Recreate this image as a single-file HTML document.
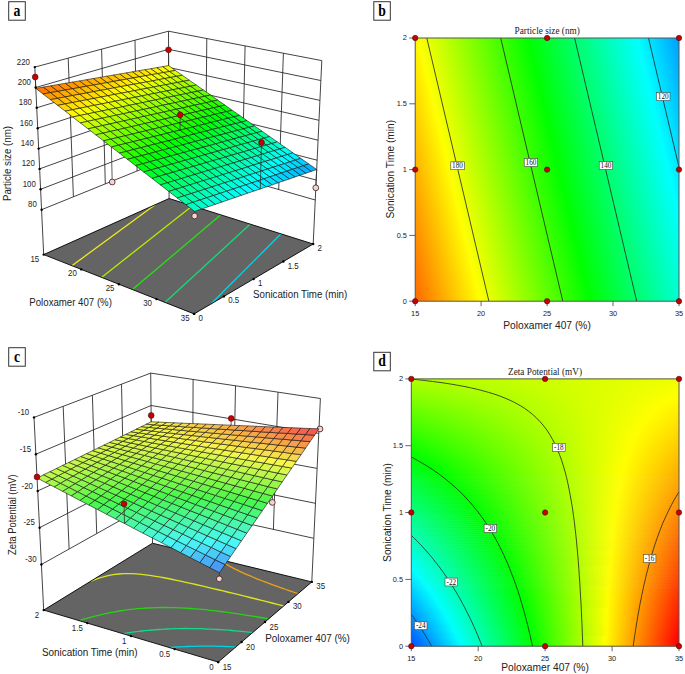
<!DOCTYPE html>
<html><head><meta charset="utf-8"><style>
html,body{margin:0;padding:0;background:#fff;}
svg{display:block;}
.g{stroke:#222;stroke-width:0.85;}
.dl{stroke:#333;stroke-width:0.8;}
.fl{fill:#646464;}
.sf polygon{stroke:#111;stroke-width:0.6;stroke-linejoin:round;}
.rd{fill:#c80000;stroke:#401010;stroke-width:0.6;}
.pk{fill:#fcd0d0;stroke:#2a2020;stroke-width:0.8;}
.tk{fill:#000;}
.ct{stroke:#222;stroke-width:0.8;fill:none;}
.bd{fill:none;stroke:#555;stroke-width:1;}
.tkl{stroke:#555;stroke-width:0.9;}
.lb{fill:#fff;stroke:#444;stroke-width:0.6;}
</style></head><body>
<svg width="685" height="674" viewBox="0 0 685 674">
<rect width="685" height="674" fill="#fff"/>
<line class="g" x1="41.6" y1="209.7" x2="168.9" y2="158.1"/>
<line class="g" x1="168.9" y1="158.1" x2="315.3" y2="200"/>
<line class="g" x1="40.6" y1="189.3" x2="168.9" y2="140"/>
<line class="g" x1="168.9" y1="140" x2="316.2" y2="180.1"/>
<line class="g" x1="39.6" y1="168.9" x2="168.8" y2="121.9"/>
<line class="g" x1="168.8" y1="121.9" x2="317.1" y2="160.2"/>
<line class="g" x1="38.6" y1="148.6" x2="168.7" y2="103.7"/>
<line class="g" x1="168.7" y1="103.7" x2="318.1" y2="140.2"/>
<line class="g" x1="37.7" y1="128.2" x2="168.7" y2="85.6"/>
<line class="g" x1="168.7" y1="85.6" x2="319" y2="120.3"/>
<line class="g" x1="36.7" y1="107.8" x2="168.6" y2="67.4"/>
<line class="g" x1="168.6" y1="67.4" x2="319.9" y2="100.4"/>
<line class="g" x1="35.7" y1="87.5" x2="168.5" y2="49.3"/>
<line class="g" x1="168.5" y1="49.3" x2="320.8" y2="80.5"/>
<line class="g" x1="34.8" y1="67.1" x2="168.5" y2="31.2"/>
<line class="g" x1="168.5" y1="31.2" x2="321.8" y2="60.6"/>
<line class="g" x1="73.4" y1="196.8" x2="68.2" y2="58.1"/>
<line class="g" x1="205.5" y1="168.6" x2="206.8" y2="38.5"/>
<line class="g" x1="105.3" y1="183.9" x2="101.6" y2="49.1"/>
<line class="g" x1="242.1" y1="179.1" x2="245.1" y2="45.9"/>
<line class="g" x1="137.1" y1="171" x2="135" y2="40.1"/>
<line class="g" x1="278.7" y1="189.5" x2="283.4" y2="53.2"/>
<line class="g" x1="43.7" y1="254.6" x2="34.8" y2="67.1"/>
<line class="g" x1="169.1" y1="198.5" x2="168.5" y2="31.2"/>
<line class="g" x1="313.2" y1="244" x2="321.8" y2="60.6"/>
<polygon class="fl" points="43.7,254.6 194.1,313.9 313.2,244 169.1,198.5"/>
<line x1="71.9" y1="265.7" x2="155.1" y2="204.7" stroke="#f0ea1e" stroke-width="1.3"/>
<line x1="101.5" y1="277.4" x2="192.5" y2="205.8" stroke="#b4ec00" stroke-width="1.3"/>
<line x1="132.4" y1="289.6" x2="220.8" y2="214.8" stroke="#28e014" stroke-width="1.3"/>
<line x1="164.9" y1="302.4" x2="250.3" y2="224.1" stroke="#14dc78" stroke-width="1.3"/>
<line x1="210.9" y1="304" x2="281.1" y2="233.8" stroke="#00d8e4" stroke-width="1.3"/>
<polygon points="43.7,254.6 194.1,313.9 313.2,244 169.1,198.5" fill="none" stroke="#000" stroke-width="0.9"/>
<line class="dl" x1="112.2" y1="182" x2="111.4" y2="147"/>
<circle class="pk" cx="112.2" cy="182" r="2.9"/>
<line class="dl" x1="194.6" y1="216" x2="194.6" y2="211.4"/>
<circle class="pk" cx="194.6" cy="216" r="2.9"/>
<line class="dl" x1="315.8" y1="187.8" x2="316.7" y2="169.5"/>
<circle class="pk" cx="315.8" cy="187.8" r="2.9"/>
<g class="sf"><polygon fill="#ff7b00" points="35.8,88.4 43,94 50.6,92.6 43.3,87.1"/><polygon fill="#ff8200" points="43.3,87.1 50.6,92.6 58,91.3 50.8,85.8"/><polygon fill="#ff8900" points="50.8,85.8 58,91.3 65.3,90 58.2,84.5"/><polygon fill="#ff9000" points="58.2,84.5 65.3,90 72.6,88.7 65.4,83.3"/><polygon fill="#ff9700" points="65.4,83.3 72.6,88.7 79.7,87.5 72.5,82.1"/><polygon fill="#ff9f00" points="72.5,82.1 79.7,87.5 86.7,86.2 79.6,80.9"/><polygon fill="#ffa600" points="79.6,80.9 86.7,86.2 93.6,85 86.5,79.7"/><polygon fill="#ffad00" points="86.5,79.7 93.6,85 100.5,83.8 93.4,78.5"/><polygon fill="#ffb400" points="93.4,78.5 100.5,83.8 107.2,82.6 100.1,77.4"/><polygon fill="#ffbc00" points="100.1,77.4 107.2,82.6 113.8,81.4 106.8,76.2"/><polygon fill="#ffc300" points="106.8,76.2 113.8,81.4 120.4,80.2 113.3,75.1"/><polygon fill="#ffca00" points="113.3,75.1 120.4,80.2 126.8,79.1 119.8,74"/><polygon fill="#ffd100" points="119.8,74 126.8,79.1 133.2,77.9 126.2,72.9"/><polygon fill="#ffd900" points="126.2,72.9 133.2,77.9 139.5,76.8 132.5,71.8"/><polygon fill="#ffe000" points="132.5,71.8 139.5,76.8 145.7,75.7 138.7,70.7"/><polygon fill="#ffe700" points="138.7,70.7 145.7,75.7 151.8,74.6 144.8,69.7"/><polygon fill="#ffee00" points="144.8,69.7 151.8,74.6 157.8,73.6 150.9,68.7"/><polygon fill="#fff500" points="150.9,68.7 157.8,73.6 163.8,72.5 156.9,67.6"/><polygon fill="#fffd00" points="156.9,67.6 163.8,72.5 169.6,71.5 162.8,66.6"/><polygon fill="#faff00" points="162.8,66.6 169.6,71.5 175.4,70.4 168.6,65.6"/><polygon fill="#ff9900" points="43,94 50.3,99.6 57.9,98.3 50.6,92.6"/><polygon fill="#ffa100" points="50.6,92.6 57.9,98.3 65.3,96.9 58,91.3"/><polygon fill="#ffa800" points="58,91.3 65.3,96.9 72.6,95.5 65.3,90"/><polygon fill="#ffaf00" points="65.3,90 72.6,95.5 79.8,94.2 72.6,88.7"/><polygon fill="#ffb600" points="72.6,88.7 79.8,94.2 86.9,92.9 79.7,87.5"/><polygon fill="#ffbd00" points="79.7,87.5 86.9,92.9 93.9,91.6 86.7,86.2"/><polygon fill="#ffc500" points="86.7,86.2 93.9,91.6 100.8,90.3 93.6,85"/><polygon fill="#ffcc00" points="93.6,85 100.8,90.3 107.6,89.1 100.5,83.8"/><polygon fill="#ffd300" points="100.5,83.8 107.6,89.1 114.3,87.8 107.2,82.6"/><polygon fill="#ffda00" points="107.2,82.6 114.3,87.8 120.9,86.6 113.8,81.4"/><polygon fill="#ffe200" points="113.8,81.4 120.9,86.6 127.4,85.4 120.4,80.2"/><polygon fill="#ffe900" points="120.4,80.2 127.4,85.4 133.9,84.2 126.8,79.1"/><polygon fill="#fff000" points="126.8,79.1 133.9,84.2 140.2,83.1 133.2,77.9"/><polygon fill="#fff700" points="133.2,77.9 140.2,83.1 146.5,81.9 139.5,76.8"/><polygon fill="#fffe00" points="139.5,76.8 146.5,81.9 152.7,80.8 145.7,75.7"/><polygon fill="#f8ff00" points="145.7,75.7 152.7,80.8 158.8,79.6 151.8,74.6"/><polygon fill="#f1ff00" points="151.8,74.6 158.8,79.6 164.8,78.5 157.8,73.6"/><polygon fill="#eaff00" points="157.8,73.6 164.8,78.5 170.7,77.4 163.8,72.5"/><polygon fill="#e3ff00" points="163.8,72.5 170.7,77.4 176.6,76.3 169.6,71.5"/><polygon fill="#dbff00" points="169.6,71.5 176.6,76.3 182.3,75.3 175.4,70.4"/><polygon fill="#ffb800" points="50.3,99.6 57.7,105.4 65.2,103.9 57.9,98.3"/><polygon fill="#ffbf00" points="57.9,98.3 65.2,103.9 72.6,102.5 65.3,96.9"/><polygon fill="#ffc600" points="65.3,96.9 72.6,102.5 79.9,101.1 72.6,95.5"/><polygon fill="#ffce00" points="72.6,95.5 79.9,101.1 87.1,99.7 79.8,94.2"/><polygon fill="#ffd500" points="79.8,94.2 87.1,99.7 94.2,98.4 86.9,92.9"/><polygon fill="#ffdc00" points="86.9,92.9 94.2,98.4 101.2,97 93.9,91.6"/><polygon fill="#ffe300" points="93.9,91.6 101.2,97 108,95.7 100.8,90.3"/><polygon fill="#ffeb00" points="100.8,90.3 108,95.7 114.8,94.4 107.6,89.1"/><polygon fill="#fff200" points="107.6,89.1 114.8,94.4 121.5,93.1 114.3,87.8"/><polygon fill="#fff900" points="114.3,87.8 121.5,93.1 128.1,91.9 120.9,86.6"/><polygon fill="#feff00" points="120.9,86.6 128.1,91.9 134.6,90.6 127.4,85.4"/><polygon fill="#f7ff00" points="127.4,85.4 134.6,90.6 141,89.4 133.9,84.2"/><polygon fill="#efff00" points="133.9,84.2 141,89.4 147.3,88.2 140.2,83.1"/><polygon fill="#e8ff00" points="140.2,83.1 147.3,88.2 153.6,87 146.5,81.9"/><polygon fill="#e1ff00" points="146.5,81.9 153.6,87 159.7,85.8 152.7,80.8"/><polygon fill="#daff00" points="152.7,80.8 159.7,85.8 165.8,84.7 158.8,79.6"/><polygon fill="#d2ff00" points="158.8,79.6 165.8,84.7 171.8,83.5 164.8,78.5"/><polygon fill="#cbff00" points="164.8,78.5 171.8,83.5 177.7,82.4 170.7,77.4"/><polygon fill="#c4ff00" points="170.7,77.4 177.7,82.4 183.5,81.3 176.6,76.3"/><polygon fill="#bdff00" points="176.6,76.3 183.5,81.3 189.3,80.2 182.3,75.3"/><polygon fill="#ffd700" points="57.7,105.4 65.2,111.1 72.7,109.7 65.2,103.9"/><polygon fill="#ffde00" points="65.2,103.9 72.7,109.7 80.1,108.2 72.6,102.5"/><polygon fill="#ffe500" points="72.6,102.5 80.1,108.2 87.3,106.7 79.9,101.1"/><polygon fill="#ffec00" points="79.9,101.1 87.3,106.7 94.5,105.3 87.1,99.7"/><polygon fill="#fff400" points="87.1,99.7 94.5,105.3 101.5,103.9 94.2,98.4"/><polygon fill="#fffb00" points="94.2,98.4 101.5,103.9 108.5,102.5 101.2,97"/><polygon fill="#fcff00" points="101.2,97 108.5,102.5 115.3,101.2 108,95.7"/><polygon fill="#f5ff00" points="108,95.7 115.3,101.2 122.1,99.8 114.8,94.4"/><polygon fill="#edff00" points="114.8,94.4 122.1,99.8 128.8,98.5 121.5,93.1"/><polygon fill="#e6ff00" points="121.5,93.1 128.8,98.5 135.3,97.2 128.1,91.9"/><polygon fill="#dfff00" points="128.1,91.9 135.3,97.2 141.8,95.9 134.6,90.6"/><polygon fill="#d8ff00" points="134.6,90.6 141.8,95.9 148.2,94.6 141,89.4"/><polygon fill="#d1ff00" points="141,89.4 148.2,94.6 154.5,93.4 147.3,88.2"/><polygon fill="#c9ff00" points="147.3,88.2 154.5,93.4 160.7,92.1 153.6,87"/><polygon fill="#c2ff00" points="153.6,87 160.7,92.1 166.9,90.9 159.7,85.8"/><polygon fill="#bbff00" points="159.7,85.8 166.9,90.9 172.9,89.7 165.8,84.7"/><polygon fill="#b4ff00" points="165.8,84.7 172.9,89.7 178.9,88.5 171.8,83.5"/><polygon fill="#acff00" points="171.8,83.5 178.9,88.5 184.8,87.4 177.7,82.4"/><polygon fill="#a5ff00" points="177.7,82.4 184.8,87.4 190.6,86.2 183.5,81.3"/><polygon fill="#9eff00" points="183.5,81.3 190.6,86.2 196.3,85.1 189.3,80.2"/><polygon fill="#fff500" points="65.2,111.1 72.7,117 80.2,115.4 72.7,109.7"/><polygon fill="#fffd00" points="72.7,109.7 80.2,115.4 87.5,113.9 80.1,108.2"/><polygon fill="#faff00" points="80.1,108.2 87.5,113.9 94.8,112.4 87.3,106.7"/><polygon fill="#f3ff00" points="87.3,106.7 94.8,112.4 101.9,110.9 94.5,105.3"/><polygon fill="#ecff00" points="94.5,105.3 101.9,110.9 108.9,109.5 101.5,103.9"/><polygon fill="#e4ff00" points="101.5,103.9 108.9,109.5 115.9,108.1 108.5,102.5"/><polygon fill="#ddff00" points="108.5,102.5 115.9,108.1 122.7,106.7 115.3,101.2"/><polygon fill="#d6ff00" points="115.3,101.2 122.7,106.7 129.5,105.3 122.1,99.8"/><polygon fill="#cfff00" points="122.1,99.8 129.5,105.3 136.1,103.9 128.8,98.5"/><polygon fill="#c8ff00" points="128.8,98.5 136.1,103.9 142.6,102.6 135.3,97.2"/><polygon fill="#c0ff00" points="135.3,97.2 142.6,102.6 149.1,101.2 141.8,95.9"/><polygon fill="#b9ff00" points="141.8,95.9 149.1,101.2 155.5,99.9 148.2,94.6"/><polygon fill="#b2ff00" points="148.2,94.6 155.5,99.9 161.7,98.6 154.5,93.4"/><polygon fill="#abff00" points="154.5,93.4 161.7,98.6 167.9,97.3 160.7,92.1"/><polygon fill="#a3ff00" points="160.7,92.1 167.9,97.3 174,96.1 166.9,90.9"/><polygon fill="#9cff00" points="166.9,90.9 174,96.1 180.1,94.8 172.9,89.7"/><polygon fill="#95ff00" points="172.9,89.7 180.1,94.8 186,93.6 178.9,88.5"/><polygon fill="#8eff00" points="178.9,88.5 186,93.6 191.9,92.4 184.8,87.4"/><polygon fill="#87ff00" points="184.8,87.4 191.9,92.4 197.7,91.2 190.6,86.2"/><polygon fill="#7fff00" points="190.6,86.2 197.7,91.2 203.4,90 196.3,85.1"/><polygon fill="#eaff00" points="72.7,117 80.3,122.9 87.8,121.3 80.2,115.4"/><polygon fill="#e3ff00" points="80.2,115.4 87.8,121.3 95.1,119.7 87.5,113.9"/><polygon fill="#dbff00" points="87.5,113.9 95.1,119.7 102.3,118.2 94.8,112.4"/><polygon fill="#d4ff00" points="94.8,112.4 102.3,118.2 109.4,116.6 101.9,110.9"/><polygon fill="#cdff00" points="101.9,110.9 109.4,116.6 116.4,115.1 108.9,109.5"/><polygon fill="#c6ff00" points="108.9,109.5 116.4,115.1 123.3,113.7 115.9,108.1"/><polygon fill="#bfff00" points="115.9,108.1 123.3,113.7 130.1,112.2 122.7,106.7"/><polygon fill="#b7ff00" points="122.7,106.7 130.1,112.2 136.9,110.8 129.5,105.3"/><polygon fill="#b0ff00" points="129.5,105.3 136.9,110.8 143.5,109.4 136.1,103.9"/><polygon fill="#a9ff00" points="136.1,103.9 143.5,109.4 150,108 142.6,102.6"/><polygon fill="#a2ff00" points="142.6,102.6 150,108 156.4,106.6 149.1,101.2"/><polygon fill="#9aff00" points="149.1,101.2 156.4,106.6 162.8,105.2 155.5,99.9"/><polygon fill="#93ff00" points="155.5,99.9 162.8,105.2 169,103.9 161.7,98.6"/><polygon fill="#8cff00" points="161.7,98.6 169,103.9 175.2,102.6 167.9,97.3"/><polygon fill="#85ff00" points="167.9,97.3 175.2,102.6 181.3,101.3 174,96.1"/><polygon fill="#7eff00" points="174,96.1 181.3,101.3 187.3,100 180.1,94.8"/><polygon fill="#76ff00" points="180.1,94.8 187.3,100 193.2,98.7 186,93.6"/><polygon fill="#6fff00" points="186,93.6 193.2,98.7 199,97.5 191.9,92.4"/><polygon fill="#68ff00" points="191.9,92.4 199,97.5 204.8,96.2 197.7,91.2"/><polygon fill="#61ff00" points="197.7,91.2 204.8,96.2 210.5,95 203.4,90"/><polygon fill="#cbff00" points="80.3,122.9 88,128.8 95.4,127.2 87.8,121.3"/><polygon fill="#c4ff00" points="87.8,121.3 95.4,127.2 102.7,125.5 95.1,119.7"/><polygon fill="#bdff00" points="95.1,119.7 102.7,125.5 109.9,123.9 102.3,118.2"/><polygon fill="#b6ff00" points="102.3,118.2 109.9,123.9 117,122.4 109.4,116.6"/><polygon fill="#aeff00" points="109.4,116.6 117,122.4 124,120.8 116.4,115.1"/><polygon fill="#a7ff00" points="116.4,115.1 124,120.8 130.9,119.3 123.3,113.7"/><polygon fill="#a0ff00" points="123.3,113.7 130.9,119.3 137.6,117.8 130.1,112.2"/><polygon fill="#99ff00" points="130.1,112.2 137.6,117.8 144.3,116.3 136.9,110.8"/><polygon fill="#91ff00" points="136.9,110.8 144.3,116.3 150.9,114.8 143.5,109.4"/><polygon fill="#8aff00" points="143.5,109.4 150.9,114.8 157.4,113.4 150,108"/><polygon fill="#83ff00" points="150,108 157.4,113.4 163.8,112 156.4,106.6"/><polygon fill="#7cff00" points="156.4,106.6 163.8,112 170.2,110.6 162.8,105.2"/><polygon fill="#74ff00" points="162.8,105.2 170.2,110.6 176.4,109.2 169,103.9"/><polygon fill="#6dff00" points="169,103.9 176.4,109.2 182.5,107.9 175.2,102.6"/><polygon fill="#66ff00" points="175.2,102.6 182.5,107.9 188.6,106.5 181.3,101.3"/><polygon fill="#5fff00" points="181.3,101.3 188.6,106.5 194.6,105.2 187.3,100"/><polygon fill="#58ff00" points="187.3,100 194.6,105.2 200.5,103.9 193.2,98.7"/><polygon fill="#50ff00" points="193.2,98.7 200.5,103.9 206.3,102.6 199,97.5"/><polygon fill="#49ff00" points="199,97.5 206.3,102.6 212,101.3 204.8,96.2"/><polygon fill="#42ff00" points="204.8,96.2 212,101.3 217.7,100.1 210.5,95"/><polygon fill="#acff00" points="88,128.8 95.7,134.8 103.1,133.1 95.4,127.2"/><polygon fill="#a5ff00" points="95.4,127.2 103.1,133.1 110.4,131.4 102.7,125.5"/><polygon fill="#9eff00" points="102.7,125.5 110.4,131.4 117.6,129.8 109.9,123.9"/><polygon fill="#97ff00" points="109.9,123.9 117.6,129.8 124.6,128.2 117,122.4"/><polygon fill="#90ff00" points="117,122.4 124.6,128.2 131.6,126.6 124,120.8"/><polygon fill="#88ff00" points="124,120.8 131.6,126.6 138.5,125 130.9,119.3"/><polygon fill="#81ff00" points="130.9,119.3 138.5,125 145.2,123.4 137.6,117.8"/><polygon fill="#7aff00" points="137.6,117.8 145.2,123.4 151.9,121.9 144.3,116.3"/><polygon fill="#73ff00" points="144.3,116.3 151.9,121.9 158.4,120.4 150.9,114.8"/><polygon fill="#6bff00" points="150.9,114.8 158.4,120.4 164.9,118.9 157.4,113.4"/><polygon fill="#64ff00" points="157.4,113.4 164.9,118.9 171.3,117.4 163.8,112"/><polygon fill="#5dff00" points="163.8,112 171.3,117.4 177.6,116 170.2,110.6"/><polygon fill="#56ff00" points="170.2,110.6 177.6,116 183.8,114.6 176.4,109.2"/><polygon fill="#4fff00" points="176.4,109.2 183.8,114.6 189.9,113.2 182.5,107.9"/><polygon fill="#47ff00" points="182.5,107.9 189.9,113.2 196,111.8 188.6,106.5"/><polygon fill="#40ff00" points="188.6,106.5 196,111.8 201.9,110.4 194.6,105.2"/><polygon fill="#39ff00" points="194.6,105.2 201.9,110.4 207.8,109.1 200.5,103.9"/><polygon fill="#32ff00" points="200.5,103.9 207.8,109.1 213.6,107.7 206.3,102.6"/><polygon fill="#2aff00" points="206.3,102.6 213.6,107.7 219.3,106.4 212,101.3"/><polygon fill="#23ff00" points="212,101.3 219.3,106.4 224.9,105.1 217.7,100.1"/><polygon fill="#8eff00" points="95.7,134.8 103.5,140.8 110.9,139.1 103.1,133.1"/><polygon fill="#87ff00" points="103.1,133.1 110.9,139.1 118.2,137.4 110.4,131.4"/><polygon fill="#7fff00" points="110.4,131.4 118.2,137.4 125.3,135.7 117.6,129.8"/><polygon fill="#78ff00" points="117.6,129.8 125.3,135.7 132.3,134 124.6,128.2"/><polygon fill="#71ff00" points="124.6,128.2 132.3,134 139.3,132.3 131.6,126.6"/><polygon fill="#6aff00" points="131.6,126.6 139.3,132.3 146.1,130.7 138.5,125"/><polygon fill="#62ff00" points="138.5,125 146.1,130.7 152.9,129.1 145.2,123.4"/><polygon fill="#5bff00" points="145.2,123.4 152.9,129.1 159.5,127.5 151.9,121.9"/><polygon fill="#54ff00" points="151.9,121.9 159.5,127.5 166,126 158.4,120.4"/><polygon fill="#4dff00" points="158.4,120.4 166,126 172.5,124.5 164.9,118.9"/><polygon fill="#46ff00" points="164.9,118.9 172.5,124.5 178.8,122.9 171.3,117.4"/><polygon fill="#3eff00" points="171.3,117.4 178.8,122.9 185.1,121.5 177.6,116"/><polygon fill="#37ff00" points="177.6,116 185.1,121.5 191.3,120 183.8,114.6"/><polygon fill="#30ff00" points="183.8,114.6 191.3,120 197.4,118.5 189.9,113.2"/><polygon fill="#29ff00" points="189.9,113.2 197.4,118.5 203.4,117.1 196,111.8"/><polygon fill="#21ff00" points="196,111.8 203.4,117.1 209.3,115.7 201.9,110.4"/><polygon fill="#1aff00" points="201.9,110.4 209.3,115.7 215.2,114.3 207.8,109.1"/><polygon fill="#13ff00" points="207.8,109.1 215.2,114.3 220.9,112.9 213.6,107.7"/><polygon fill="#0cff00" points="213.6,107.7 220.9,112.9 226.6,111.6 219.3,106.4"/><polygon fill="#05ff00" points="219.3,106.4 226.6,111.6 232.2,110.3 224.9,105.1"/><polygon fill="#6fff00" points="103.5,140.8 111.4,147 118.8,145.1 110.9,139.1"/><polygon fill="#68ff00" points="110.9,139.1 118.8,145.1 126,143.4 118.2,137.4"/><polygon fill="#61ff00" points="118.2,137.4 126,143.4 133.1,141.6 125.3,135.7"/><polygon fill="#59ff00" points="125.3,135.7 133.1,141.6 140.1,139.9 132.3,134"/><polygon fill="#52ff00" points="132.3,134 140.1,139.9 147,138.2 139.3,132.3"/><polygon fill="#4bff00" points="139.3,132.3 147,138.2 153.8,136.5 146.1,130.7"/><polygon fill="#44ff00" points="146.1,130.7 153.8,136.5 160.6,134.9 152.9,129.1"/><polygon fill="#3dff00" points="152.9,129.1 160.6,134.9 167.2,133.2 159.5,127.5"/><polygon fill="#35ff00" points="159.5,127.5 167.2,133.2 173.7,131.6 166,126"/><polygon fill="#2eff00" points="166,126 173.7,131.6 180.1,130.1 172.5,124.5"/><polygon fill="#27ff00" points="172.5,124.5 180.1,130.1 186.4,128.5 178.8,122.9"/><polygon fill="#20ff00" points="178.8,122.9 186.4,128.5 192.7,127 185.1,121.5"/><polygon fill="#18ff00" points="185.1,121.5 192.7,127 198.8,125.5 191.3,120"/><polygon fill="#11ff00" points="191.3,120 198.8,125.5 204.9,124 197.4,118.5"/><polygon fill="#0aff00" points="197.4,118.5 204.9,124 210.9,122.5 203.4,117.1"/><polygon fill="#03ff00" points="203.4,117.1 210.9,122.5 216.8,121 209.3,115.7"/><polygon fill="#00ff05" points="209.3,115.7 216.8,121 222.6,119.6 215.2,114.3"/><polygon fill="#00ff0c" points="215.2,114.3 222.6,119.6 228.3,118.2 220.9,112.9"/><polygon fill="#00ff13" points="220.9,112.9 228.3,118.2 234,116.8 226.6,111.6"/><polygon fill="#00ff1a" points="226.6,111.6 234,116.8 239.6,115.4 232.2,110.3"/><polygon fill="#50ff00" points="111.4,147 119.4,153.1 126.7,151.3 118.8,145.1"/><polygon fill="#49ff00" points="118.8,145.1 126.7,151.3 133.9,149.4 126,143.4"/><polygon fill="#42ff00" points="126,143.4 133.9,149.4 141,147.6 133.1,141.6"/><polygon fill="#3bff00" points="133.1,141.6 141,147.6 148,145.8 140.1,139.9"/><polygon fill="#33ff00" points="140.1,139.9 148,145.8 154.9,144.1 147,138.2"/><polygon fill="#2cff00" points="147,138.2 154.9,144.1 161.7,142.4 153.8,136.5"/><polygon fill="#25ff00" points="153.8,136.5 161.7,142.4 168.3,140.7 160.6,134.9"/><polygon fill="#1eff00" points="160.6,134.9 168.3,140.7 174.9,139 167.2,133.2"/><polygon fill="#17ff00" points="167.2,133.2 174.9,139 181.4,137.3 173.7,131.6"/><polygon fill="#0fff00" points="173.7,131.6 181.4,137.3 187.8,135.7 180.1,130.1"/><polygon fill="#08ff00" points="180.1,130.1 187.8,135.7 194.1,134.1 186.4,128.5"/><polygon fill="#01ff00" points="186.4,128.5 194.1,134.1 200.3,132.5 192.7,127"/><polygon fill="#00ff06" points="192.7,127 200.3,132.5 206.4,131 198.8,125.5"/><polygon fill="#00ff0e" points="198.8,125.5 206.4,131 212.5,129.4 204.9,124"/><polygon fill="#00ff15" points="204.9,124 212.5,129.4 218.4,127.9 210.9,122.5"/><polygon fill="#00ff1c" points="210.9,122.5 218.4,127.9 224.3,126.4 216.8,121"/><polygon fill="#00ff23" points="216.8,121 224.3,126.4 230.1,124.9 222.6,119.6"/><polygon fill="#00ff2a" points="222.6,119.6 230.1,124.9 235.8,123.5 228.3,118.2"/><polygon fill="#00ff32" points="228.3,118.2 235.8,123.5 241.4,122.1 234,116.8"/><polygon fill="#00ff39" points="234,116.8 241.4,122.1 247,120.6 239.6,115.4"/><polygon fill="#32ff00" points="119.4,153.1 127.4,159.3 134.7,157.4 126.7,151.3"/><polygon fill="#2aff00" points="126.7,151.3 134.7,157.4 141.9,155.5 133.9,149.4"/><polygon fill="#23ff00" points="133.9,149.4 141.9,155.5 149,153.7 141,147.6"/><polygon fill="#1cff00" points="141,147.6 149,153.7 155.9,151.8 148,145.8"/><polygon fill="#15ff00" points="148,145.8 155.9,151.8 162.8,150 154.9,144.1"/><polygon fill="#0eff00" points="154.9,144.1 162.8,150 169.5,148.3 161.7,142.4"/><polygon fill="#06ff00" points="161.7,142.4 169.5,148.3 176.2,146.5 168.3,140.7"/><polygon fill="#00ff01" points="168.3,140.7 176.2,146.5 182.7,144.8 174.9,139"/><polygon fill="#00ff08" points="174.9,139 182.7,144.8 189.2,143.1 181.4,137.3"/><polygon fill="#00ff0f" points="181.4,137.3 189.2,143.1 195.6,141.4 187.8,135.7"/><polygon fill="#00ff17" points="187.8,135.7 195.6,141.4 201.8,139.8 194.1,134.1"/><polygon fill="#00ff1e" points="194.1,134.1 201.8,139.8 208,138.1 200.3,132.5"/><polygon fill="#00ff25" points="200.3,132.5 208,138.1 214.1,136.5 206.4,131"/><polygon fill="#00ff2c" points="206.4,131 214.1,136.5 220.1,134.9 212.5,129.4"/><polygon fill="#00ff33" points="212.5,129.4 220.1,134.9 226.1,133.4 218.4,127.9"/><polygon fill="#00ff3b" points="218.4,127.9 226.1,133.4 231.9,131.8 224.3,126.4"/><polygon fill="#00ff42" points="224.3,126.4 231.9,131.8 237.7,130.3 230.1,124.9"/><polygon fill="#00ff49" points="230.1,124.9 237.7,130.3 243.4,128.8 235.8,123.5"/><polygon fill="#00ff50" points="235.8,123.5 243.4,128.8 249,127.3 241.4,122.1"/><polygon fill="#00ff58" points="241.4,122.1 249,127.3 254.5,125.9 247,120.6"/><polygon fill="#13ff00" points="127.4,159.3 135.5,165.6 142.8,163.7 134.7,157.4"/><polygon fill="#0cff00" points="134.7,157.4 142.8,163.7 149.9,161.7 141.9,155.5"/><polygon fill="#05ff00" points="141.9,155.5 149.9,161.7 157,159.8 149,153.7"/><polygon fill="#00ff03" points="149,153.7 157,159.8 163.9,157.9 155.9,151.8"/><polygon fill="#00ff0a" points="155.9,151.8 163.9,157.9 170.7,156 162.8,150"/><polygon fill="#00ff11" points="162.8,150 170.7,156 177.5,154.2 169.5,148.3"/><polygon fill="#00ff18" points="169.5,148.3 177.5,154.2 184.1,152.4 176.2,146.5"/><polygon fill="#00ff20" points="176.2,146.5 184.1,152.4 190.6,150.6 182.7,144.8"/><polygon fill="#00ff27" points="182.7,144.8 190.6,150.6 197.1,148.9 189.2,143.1"/><polygon fill="#00ff2e" points="189.2,143.1 197.1,148.9 203.4,147.2 195.6,141.4"/><polygon fill="#00ff35" points="195.6,141.4 203.4,147.2 209.6,145.5 201.8,139.8"/><polygon fill="#00ff3d" points="201.8,139.8 209.6,145.5 215.8,143.8 208,138.1"/><polygon fill="#00ff44" points="208,138.1 215.8,143.8 221.9,142.1 214.1,136.5"/><polygon fill="#00ff4b" points="214.1,136.5 221.9,142.1 227.8,140.5 220.1,134.9"/><polygon fill="#00ff52" points="220.1,134.9 227.8,140.5 233.7,138.9 226.1,133.4"/><polygon fill="#00ff59" points="226.1,133.4 233.7,138.9 239.6,137.3 231.9,131.8"/><polygon fill="#00ff61" points="231.9,131.8 239.6,137.3 245.3,135.7 237.7,130.3"/><polygon fill="#00ff68" points="237.7,130.3 245.3,135.7 251,134.2 243.4,128.8"/><polygon fill="#00ff6f" points="243.4,128.8 251,134.2 256.5,132.7 249,127.3"/><polygon fill="#00ff76" points="249,127.3 256.5,132.7 262,131.2 254.5,125.9"/><polygon fill="#00ff0c" points="135.5,165.6 143.7,172 151,169.9 142.8,163.7"/><polygon fill="#00ff13" points="142.8,163.7 151,169.9 158.1,167.9 149.9,161.7"/><polygon fill="#00ff1a" points="149.9,161.7 158.1,167.9 165.1,166 157,159.8"/><polygon fill="#00ff21" points="157,159.8 165.1,166 172,164 163.9,157.9"/><polygon fill="#00ff29" points="163.9,157.9 172,164 178.8,162.1 170.7,156"/><polygon fill="#00ff30" points="170.7,156 178.8,162.1 185.5,160.2 177.5,154.2"/><polygon fill="#00ff37" points="177.5,154.2 185.5,160.2 192.1,158.4 184.1,152.4"/><polygon fill="#00ff3e" points="184.1,152.4 192.1,158.4 198.6,156.5 190.6,150.6"/><polygon fill="#00ff46" points="190.6,150.6 198.6,156.5 205,154.7 197.1,148.9"/><polygon fill="#00ff4d" points="197.1,148.9 205,154.7 211.3,153 203.4,147.2"/><polygon fill="#00ff54" points="203.4,147.2 211.3,153 217.5,151.2 209.6,145.5"/><polygon fill="#00ff5b" points="209.6,145.5 217.5,151.2 223.6,149.5 215.8,143.8"/><polygon fill="#00ff62" points="215.8,143.8 223.6,149.5 229.7,147.8 221.9,142.1"/><polygon fill="#00ff6a" points="221.9,142.1 229.7,147.8 235.6,146.1 227.8,140.5"/><polygon fill="#00ff71" points="227.8,140.5 235.6,146.1 241.5,144.4 233.7,138.9"/><polygon fill="#00ff78" points="233.7,138.9 241.5,144.4 247.3,142.8 239.6,137.3"/><polygon fill="#00ff7f" points="239.6,137.3 247.3,142.8 253,141.2 245.3,135.7"/><polygon fill="#00ff87" points="245.3,135.7 253,141.2 258.6,139.6 251,134.2"/><polygon fill="#00ff8e" points="251,134.2 258.6,139.6 264.2,138.1 256.5,132.7"/><polygon fill="#00ff95" points="256.5,132.7 264.2,138.1 269.6,136.5 262,131.2"/><polygon fill="#00ff2a" points="143.7,172 152,178.4 159.2,176.3 151,169.9"/><polygon fill="#00ff32" points="151,169.9 159.2,176.3 166.3,174.2 158.1,167.9"/><polygon fill="#00ff39" points="158.1,167.9 166.3,174.2 173.3,172.2 165.1,166"/><polygon fill="#00ff40" points="165.1,166 173.3,172.2 180.2,170.2 172,164"/><polygon fill="#00ff47" points="172,164 180.2,170.2 186.9,168.2 178.8,162.1"/><polygon fill="#00ff4f" points="178.8,162.1 186.9,168.2 193.6,166.3 185.5,160.2"/><polygon fill="#00ff56" points="185.5,160.2 193.6,166.3 200.2,164.4 192.1,158.4"/><polygon fill="#00ff5d" points="192.1,158.4 200.2,164.4 206.6,162.5 198.6,156.5"/><polygon fill="#00ff64" points="198.6,156.5 206.6,162.5 213,160.6 205,154.7"/><polygon fill="#00ff6b" points="205,154.7 213,160.6 219.3,158.8 211.3,153"/><polygon fill="#00ff73" points="211.3,153 219.3,158.8 225.5,157 217.5,151.2"/><polygon fill="#00ff7a" points="217.5,151.2 225.5,157 231.6,155.2 223.6,149.5"/><polygon fill="#00ff81" points="223.6,149.5 231.6,155.2 237.6,153.5 229.7,147.8"/><polygon fill="#00ff88" points="229.7,147.8 237.6,153.5 243.5,151.8 235.6,146.1"/><polygon fill="#00ff90" points="235.6,146.1 243.5,151.8 249.3,150.1 241.5,144.4"/><polygon fill="#00ff97" points="241.5,144.4 249.3,150.1 255.1,148.4 247.3,142.8"/><polygon fill="#00ff9e" points="247.3,142.8 255.1,148.4 260.8,146.7 253,141.2"/><polygon fill="#00ffa5" points="253,141.2 260.8,146.7 266.4,145.1 258.6,139.6"/><polygon fill="#00ffac" points="258.6,139.6 266.4,145.1 271.9,143.5 264.2,138.1"/><polygon fill="#00ffb4" points="264.2,138.1 271.9,143.5 277.3,141.9 269.6,136.5"/><polygon fill="#00ff49" points="152,178.4 160.4,184.9 167.5,182.7 159.2,176.3"/><polygon fill="#00ff50" points="159.2,176.3 167.5,182.7 174.6,180.6 166.3,174.2"/><polygon fill="#00ff58" points="166.3,174.2 174.6,180.6 181.5,178.5 173.3,172.2"/><polygon fill="#00ff5f" points="173.3,172.2 181.5,178.5 188.4,176.4 180.2,170.2"/><polygon fill="#00ff66" points="180.2,170.2 188.4,176.4 195.1,174.4 186.9,168.2"/><polygon fill="#00ff6d" points="186.9,168.2 195.1,174.4 201.8,172.4 193.6,166.3"/><polygon fill="#00ff74" points="193.6,166.3 201.8,172.4 208.3,170.4 200.2,164.4"/><polygon fill="#00ff7c" points="200.2,164.4 208.3,170.4 214.7,168.5 206.6,162.5"/><polygon fill="#00ff83" points="206.6,162.5 214.7,168.5 221.1,166.6 213,160.6"/><polygon fill="#00ff8a" points="213,160.6 221.1,166.6 227.3,164.7 219.3,158.8"/><polygon fill="#00ff91" points="219.3,158.8 227.3,164.7 233.5,162.9 225.5,157"/><polygon fill="#00ff99" points="225.5,157 233.5,162.9 239.5,161 231.6,155.2"/><polygon fill="#00ffa0" points="231.6,155.2 239.5,161 245.5,159.2 237.6,153.5"/><polygon fill="#00ffa7" points="237.6,153.5 245.5,159.2 251.4,157.5 243.5,151.8"/><polygon fill="#00ffae" points="243.5,151.8 251.4,157.5 257.2,155.7 249.3,150.1"/><polygon fill="#00ffb6" points="249.3,150.1 257.2,155.7 262.9,154 255.1,148.4"/><polygon fill="#00ffbd" points="255.1,148.4 262.9,154 268.6,152.3 260.8,146.7"/><polygon fill="#00ffc4" points="260.8,146.7 268.6,152.3 274.2,150.6 266.4,145.1"/><polygon fill="#00ffcb" points="266.4,145.1 274.2,150.6 279.6,149 271.9,143.5"/><polygon fill="#00ffd2" points="271.9,143.5 279.6,149 285.1,147.3 277.3,141.9"/><polygon fill="#00ff68" points="160.4,184.9 168.8,191.4 175.9,189.2 167.5,182.7"/><polygon fill="#00ff6f" points="167.5,182.7 175.9,189.2 183,187 174.6,180.6"/><polygon fill="#00ff76" points="174.6,180.6 183,187 189.9,184.8 181.5,178.5"/><polygon fill="#00ff7e" points="181.5,178.5 189.9,184.8 196.7,182.7 188.4,176.4"/><polygon fill="#00ff85" points="188.4,176.4 196.7,182.7 203.4,180.6 195.1,174.4"/><polygon fill="#00ff8c" points="195.1,174.4 203.4,180.6 210,178.6 201.8,172.4"/><polygon fill="#00ff93" points="201.8,172.4 210,178.6 216.5,176.6 208.3,170.4"/><polygon fill="#00ff9a" points="208.3,170.4 216.5,176.6 222.9,174.6 214.7,168.5"/><polygon fill="#00ffa2" points="214.7,168.5 222.9,174.6 229.2,172.6 221.1,166.6"/><polygon fill="#00ffa9" points="221.1,166.6 229.2,172.6 235.4,170.7 227.3,164.7"/><polygon fill="#00ffb0" points="227.3,164.7 235.4,170.7 241.6,168.8 233.5,162.9"/><polygon fill="#00ffb7" points="233.5,162.9 241.6,168.8 247.6,166.9 239.5,161"/><polygon fill="#00ffbf" points="239.5,161 247.6,166.9 253.5,165 245.5,159.2"/><polygon fill="#00ffc6" points="245.5,159.2 253.5,165 259.4,163.2 251.4,157.5"/><polygon fill="#00ffcd" points="251.4,157.5 259.4,163.2 265.2,161.4 257.2,155.7"/><polygon fill="#00ffd4" points="257.2,155.7 265.2,161.4 270.9,159.7 262.9,154"/><polygon fill="#00ffdb" points="262.9,154 270.9,159.7 276.5,157.9 268.6,152.3"/><polygon fill="#00ffe3" points="268.6,152.3 276.5,157.9 282,156.2 274.2,150.6"/><polygon fill="#00ffea" points="274.2,150.6 282,156.2 287.5,154.5 279.6,149"/><polygon fill="#00fff1" points="279.6,149 287.5,154.5 292.9,152.8 285.1,147.3"/><polygon fill="#00ff87" points="168.8,191.4 177.3,198 184.4,195.7 175.9,189.2"/><polygon fill="#00ff8e" points="175.9,189.2 184.4,195.7 191.4,193.5 183,187"/><polygon fill="#00ff95" points="183,187 191.4,193.5 198.3,191.3 189.9,184.8"/><polygon fill="#00ff9c" points="189.9,184.8 198.3,191.3 205.1,189.1 196.7,182.7"/><polygon fill="#00ffa3" points="196.7,182.7 205.1,189.1 211.8,186.9 203.4,180.6"/><polygon fill="#00ffab" points="203.4,180.6 211.8,186.9 218.3,184.8 210,178.6"/><polygon fill="#00ffb2" points="210,178.6 218.3,184.8 224.8,182.7 216.5,176.6"/><polygon fill="#00ffb9" points="216.5,176.6 224.8,182.7 231.2,180.7 222.9,174.6"/><polygon fill="#00ffc0" points="222.9,174.6 231.2,180.7 237.5,178.7 229.2,172.6"/><polygon fill="#00ffc8" points="229.2,172.6 237.5,178.7 243.6,176.7 235.4,170.7"/><polygon fill="#00ffcf" points="235.4,170.7 243.6,176.7 249.7,174.7 241.6,168.8"/><polygon fill="#00ffd6" points="241.6,168.8 249.7,174.7 255.7,172.8 247.6,166.9"/><polygon fill="#00ffdd" points="247.6,166.9 255.7,172.8 261.6,170.9 253.5,165"/><polygon fill="#00ffe4" points="253.5,165 261.6,170.9 267.5,169 259.4,163.2"/><polygon fill="#00ffec" points="259.4,163.2 267.5,169 273.2,167.2 265.2,161.4"/><polygon fill="#00fff3" points="265.2,161.4 273.2,167.2 278.9,165.4 270.9,159.7"/><polygon fill="#00fffa" points="270.9,159.7 278.9,165.4 284.5,163.6 276.5,157.9"/><polygon fill="#00fdff" points="276.5,157.9 284.5,163.6 290,161.8 282,156.2"/><polygon fill="#00f5ff" points="282,156.2 290,161.8 295.4,160.1 287.5,154.5"/><polygon fill="#00eeff" points="287.5,154.5 295.4,160.1 300.7,158.3 292.9,152.8"/><polygon fill="#00ffa5" points="177.3,198 185.9,204.7 193,202.3 184.4,195.7"/><polygon fill="#00ffac" points="184.4,195.7 193,202.3 200,200 191.4,193.5"/><polygon fill="#00ffb4" points="191.4,193.5 200,200 206.8,197.7 198.3,191.3"/><polygon fill="#00ffbb" points="198.3,191.3 206.8,197.7 213.6,195.5 205.1,189.1"/><polygon fill="#00ffc2" points="205.1,189.1 213.6,195.5 220.2,193.3 211.8,186.9"/><polygon fill="#00ffc9" points="211.8,186.9 220.2,193.3 226.7,191.1 218.3,184.8"/><polygon fill="#00ffd1" points="218.3,184.8 226.7,191.1 233.2,189 224.8,182.7"/><polygon fill="#00ffd8" points="224.8,182.7 233.2,189 239.5,186.9 231.2,180.7"/><polygon fill="#00ffdf" points="231.2,180.7 239.5,186.9 245.8,184.8 237.5,178.7"/><polygon fill="#00ffe6" points="237.5,178.7 245.8,184.8 251.9,182.8 243.6,176.7"/><polygon fill="#00ffed" points="243.6,176.7 251.9,182.8 258,180.8 249.7,174.7"/><polygon fill="#00fff5" points="249.7,174.7 258,180.8 263.9,178.8 255.7,172.8"/><polygon fill="#00fffc" points="255.7,172.8 263.9,178.8 269.8,176.8 261.6,170.9"/><polygon fill="#00fbff" points="261.6,170.9 269.8,176.8 275.6,174.9 267.5,169"/><polygon fill="#00f4ff" points="267.5,169 275.6,174.9 281.3,173 273.2,167.2"/><polygon fill="#00ecff" points="273.2,167.2 281.3,173 286.9,171.1 278.9,165.4"/><polygon fill="#00e5ff" points="278.9,165.4 286.9,171.1 292.5,169.3 284.5,163.6"/><polygon fill="#00deff" points="284.5,163.6 292.5,169.3 298,167.5 290,161.8"/><polygon fill="#00d7ff" points="290,161.8 298,167.5 303.4,165.7 295.4,160.1"/><polygon fill="#00cfff" points="295.4,160.1 303.4,165.7 308.7,163.9 300.7,158.3"/><polygon fill="#00ffc4" points="185.9,204.7 194.6,211.4 201.7,209 193,202.3"/><polygon fill="#00ffcb" points="193,202.3 201.7,209 208.6,206.6 200,200"/><polygon fill="#00ffd2" points="200,200 208.6,206.6 215.4,204.3 206.8,197.7"/><polygon fill="#00ffda" points="206.8,197.7 215.4,204.3 222.1,202 213.6,195.5"/><polygon fill="#00ffe1" points="213.6,195.5 222.1,202 228.7,199.7 220.2,193.3"/><polygon fill="#00ffe8" points="220.2,193.3 228.7,199.7 235.2,197.5 226.7,191.1"/><polygon fill="#00ffef" points="226.7,191.1 235.2,197.5 241.6,195.3 233.2,189"/><polygon fill="#00fff7" points="233.2,189 241.6,195.3 247.9,193.1 239.5,186.9"/><polygon fill="#00fffe" points="239.5,186.9 247.9,193.1 254.1,191 245.8,184.8"/><polygon fill="#00f9ff" points="245.8,184.8 254.1,191 260.3,188.9 251.9,182.8"/><polygon fill="#00f2ff" points="251.9,182.8 260.3,188.9 266.3,186.8 258,180.8"/><polygon fill="#00ebff" points="258,180.8 266.3,186.8 272.2,184.8 263.9,178.8"/><polygon fill="#00e3ff" points="263.9,178.8 272.2,184.8 278.1,182.8 269.8,176.8"/><polygon fill="#00dcff" points="269.8,176.8 278.1,182.8 283.8,180.8 275.6,174.9"/><polygon fill="#00d5ff" points="275.6,174.9 283.8,180.8 289.5,178.9 281.3,173"/><polygon fill="#00ceff" points="281.3,173 289.5,178.9 295.1,176.9 286.9,171.1"/><polygon fill="#00c6ff" points="286.9,171.1 295.1,176.9 300.6,175 292.5,169.3"/><polygon fill="#00bfff" points="292.5,169.3 300.6,175 306,173.2 298,167.5"/><polygon fill="#00b8ff" points="298,167.5 306,173.2 311.4,171.3 303.4,165.7"/><polygon fill="#00b1ff" points="303.4,165.7 311.4,171.3 316.7,169.5 308.7,163.9"/></g>
<line class="dl" x1="35.2" y1="77" x2="35.8" y2="88.4"/>
<circle class="rd" cx="35.2" cy="77" r="2.9"/>
<line class="dl" x1="168.5" y1="49.8" x2="168.6" y2="65.6"/>
<circle class="rd" cx="168.5" cy="49.8" r="2.9"/>
<line class="dl" x1="180.1" y1="114.8" x2="180.1" y2="130.1"/>
<circle class="rd" cx="180.1" cy="114.8" r="2.9"/>
<line class="dl" x1="261.5" y1="142.4" x2="260.3" y2="188.9"/>
<circle class="rd" cx="261.5" cy="142.4" r="2.9"/>
<circle class="tk" cx="41.6" cy="209.7" r="1.2"/>
<text transform="translate(36.8 207.2) scale(0.93 1)" font-size="8.48" text-anchor="end" font-family='"Liberation Sans", sans-serif' fill="#222">80</text>
<circle class="tk" cx="40.6" cy="189.3" r="1.2"/>
<text transform="translate(35.8 186.8) scale(0.93 1)" font-size="8.48" text-anchor="end" font-family='"Liberation Sans", sans-serif' fill="#222">100</text>
<circle class="tk" cx="39.6" cy="168.9" r="1.2"/>
<text transform="translate(34.8 166.4) scale(0.93 1)" font-size="8.48" text-anchor="end" font-family='"Liberation Sans", sans-serif' fill="#222">120</text>
<circle class="tk" cx="38.6" cy="148.6" r="1.2"/>
<text transform="translate(33.8 146.1) scale(0.93 1)" font-size="8.48" text-anchor="end" font-family='"Liberation Sans", sans-serif' fill="#222">140</text>
<circle class="tk" cx="37.7" cy="128.2" r="1.2"/>
<text transform="translate(32.9 125.7) scale(0.93 1)" font-size="8.48" text-anchor="end" font-family='"Liberation Sans", sans-serif' fill="#222">160</text>
<circle class="tk" cx="36.7" cy="107.8" r="1.2"/>
<text transform="translate(31.9 105.3) scale(0.93 1)" font-size="8.48" text-anchor="end" font-family='"Liberation Sans", sans-serif' fill="#222">180</text>
<circle class="tk" cx="35.7" cy="87.5" r="1.2"/>
<text transform="translate(30.9 85) scale(0.93 1)" font-size="8.48" text-anchor="end" font-family='"Liberation Sans", sans-serif' fill="#222">200</text>
<circle class="tk" cx="34.8" cy="67.1" r="1.2"/>
<text transform="translate(30 64.6) scale(0.93 1)" font-size="8.48" text-anchor="end" font-family='"Liberation Sans", sans-serif' fill="#222">220</text>
<circle class="tk" cx="43.7" cy="254.6" r="1.2"/>
<text transform="translate(39.2 261.6) scale(0.93 1)" font-size="8.48" text-anchor="end" font-family='"Liberation Sans", sans-serif' fill="#222">15</text>
<circle class="tk" cx="81.3" cy="269.4" r="1.2"/>
<text transform="translate(76.8 276.4) scale(0.93 1)" font-size="8.48" text-anchor="end" font-family='"Liberation Sans", sans-serif' fill="#222">20</text>
<circle class="tk" cx="118.9" cy="284.3" r="1.2"/>
<text transform="translate(114.4 291.3) scale(0.93 1)" font-size="8.48" text-anchor="end" font-family='"Liberation Sans", sans-serif' fill="#222">25</text>
<circle class="tk" cx="156.5" cy="299.1" r="1.2"/>
<text transform="translate(152 306.1) scale(0.93 1)" font-size="8.48" text-anchor="end" font-family='"Liberation Sans", sans-serif' fill="#222">30</text>
<circle class="tk" cx="194.1" cy="313.9" r="1.2"/>
<text transform="translate(189.6 320.9) scale(0.93 1)" font-size="8.48" text-anchor="end" font-family='"Liberation Sans", sans-serif' fill="#222">35</text>
<circle class="tk" cx="194.1" cy="313.9" r="1.2"/>
<text transform="translate(198.4 320.9) scale(0.93 1)" font-size="8.48" text-anchor="start" font-family='"Liberation Sans", sans-serif' fill="#222">0</text>
<circle class="tk" cx="223.9" cy="296.4" r="1.2"/>
<text transform="translate(228.2 303.4) scale(0.93 1)" font-size="8.48" text-anchor="start" font-family='"Liberation Sans", sans-serif' fill="#222">0.5</text>
<circle class="tk" cx="253.7" cy="279" r="1.2"/>
<text transform="translate(258 286) scale(0.93 1)" font-size="8.48" text-anchor="start" font-family='"Liberation Sans", sans-serif' fill="#222">1</text>
<circle class="tk" cx="283.4" cy="261.5" r="1.2"/>
<text transform="translate(287.7 268.5) scale(0.93 1)" font-size="8.48" text-anchor="start" font-family='"Liberation Sans", sans-serif' fill="#222">1.5</text>
<circle class="tk" cx="313.2" cy="244" r="1.2"/>
<text transform="translate(317.5 251) scale(0.93 1)" font-size="8.48" text-anchor="start" font-family='"Liberation Sans", sans-serif' fill="#222">2</text>
<text transform="translate(70.6 305.7) scale(0.93 1)" font-size="10.39" text-anchor="middle" font-family='"Liberation Sans", sans-serif' fill="#222">Poloxamer 407 (%)</text>
<text transform="translate(253.1 297.8) scale(0.93 1)" font-size="10.49" text-anchor="start" font-family='"Liberation Sans", sans-serif' fill="#222">Sonication Time (min)</text>
<text transform="translate(11.3 163.5) rotate(-90) scale(0.93 1)" font-size="10.49" text-anchor="middle" font-family='"Liberation Sans", sans-serif' fill="#222">Particle size (nm)</text>
<line class="g" x1="41.4" y1="564.5" x2="152.1" y2="502.6"/>
<line class="g" x1="152.1" y1="502.6" x2="313.8" y2="538.3"/>
<line class="g" x1="39.6" y1="527.7" x2="151.7" y2="470.2"/>
<line class="g" x1="151.7" y1="470.2" x2="315.4" y2="503.3"/>
<line class="g" x1="37.7" y1="491" x2="151.4" y2="437.9"/>
<line class="g" x1="151.4" y1="437.9" x2="317.1" y2="468.4"/>
<line class="g" x1="35.9" y1="454.2" x2="151.1" y2="405.5"/>
<line class="g" x1="151.1" y1="405.5" x2="318.7" y2="433.4"/>
<line class="g" x1="34" y1="417.4" x2="150.7" y2="373.1"/>
<line class="g" x1="150.7" y1="373.1" x2="320.4" y2="398.5"/>
<line class="g" x1="69.1" y1="549" x2="63.2" y2="406.4"/>
<line class="g" x1="192.5" y1="511.5" x2="193.1" y2="379.5"/>
<line class="g" x1="96.7" y1="533.5" x2="92.4" y2="395.3"/>
<line class="g" x1="232.9" y1="520.4" x2="235.5" y2="385.8"/>
<line class="g" x1="124.4" y1="518.1" x2="121.5" y2="384.2"/>
<line class="g" x1="273.4" y1="529.4" x2="278" y2="392.1"/>
<line class="g" x1="43.7" y1="610.1" x2="34" y2="417.4"/>
<line class="g" x1="152.5" y1="543.2" x2="150.7" y2="373.1"/>
<line class="g" x1="311.8" y1="581.9" x2="320.4" y2="398.5"/>
<polygon class="fl" points="43.7,610.1 218.2,662.1 311.8,581.9 152.5,543.2"/>
<polyline fill="none" stroke="#f0a014" stroke-width="1.3" points="298.1,593.6 296.3,593 293.2,592 290.7,591.2 288.3,590.3 285.9,589.5 282.7,588.4 280.4,587.6 278,586.7 275.7,585.9 272.9,584.9 270.3,583.9 268.8,583.4 265.8,582.2 263.5,581.4 261.3,580.5 259.1,579.6 256.9,578.8 254.7,577.9 252.6,577 250.8,576.2 248.3,575.2 246.2,574.3 244.2,573.4 242.8,572.8 240.8,571.8 238.8,570.9 236.9,569.9 235.6,569.3 233.7,568.3 231.8,567.3 229.9,566.3 228.7,565.6 227.3,564.8 225.8,563.9 224.1,562.8 223,562.1 221.8,561.3 220.3,560.2 219.1,559.4"/>
<polyline fill="none" stroke="#dce61e" stroke-width="1.3" points="283.7,606 278.3,604.6 272,603 266.7,601.7 260.6,600.2 256.1,599 249.9,597.5 244.7,596.2 238.6,594.7 233.4,593.4 227.4,592 223.1,590.9 217.1,589.5 212,588.3 206,586.9 201.8,585.9 195.8,584.5 190.8,583.4 185.7,582.3 180.6,581.2 175.5,580.1 170.4,579 165.2,578 160.9,577.2 155.7,576.3 151.3,575.6 145.8,574.9 141.3,574.4 136.4,573.9 132.4,573.7 127.6,573.6 123.7,573.6 118.9,574 114.9,574.4 110.4,575.2 107,575.9 102.8,577 99,578.2 94.7,579.7 90.9,581.1"/>
<polyline fill="none" stroke="#28d214" stroke-width="1.3" points="268.6,618.9 263.6,618 257.7,617 252.7,616.2 247.2,615.3 242.5,614.6 236.8,613.7 230.8,612.8 225.9,612.2 220.6,611.5 215.5,610.9 210.4,610.3 205.2,609.7 200,609.2 194.7,608.8 190.5,608.5 185.1,608.1 179.6,607.9 175.1,607.7 170.6,607.6 166,607.5 161,607.5 156.5,607.6 151.6,607.8 146.6,608 142.7,608.3 137.4,608.7 133.3,609.1 128.5,609.7 123.3,610.4 119.5,611 114.7,611.8 110.6,612.6 105.6,613.6 101.2,614.6 97,615.6 92.4,616.8 88.4,617.9 83.8,619.2 79,620.7"/>
<polyline fill="none" stroke="#14d88a" stroke-width="1.3" points="252.7,632.5 249.4,632.2 246.1,631.8 241.8,631.4 238.5,631.1 235.1,630.8 231.8,630.5 228.5,630.2 224,629.9 221.1,629.7 218.3,629.5 213.8,629.3 211.1,629.1 206.9,629 204.1,628.8 201,628.7 197.4,628.7 193.9,628.6 191.1,628.6 187.1,628.5 184.2,628.5 180.5,628.6 177.5,628.6 174.3,628.7 170.4,628.9 167.8,629 163.9,629.2 161.3,629.3 158.5,629.5 154.5,629.8 151.8,630 149,630.3 144.7,630.7 141.9,631 138.9,631.4 136,631.7 132.9,632.2 129.4,632.7 126.7,633.1 122.9,633.7"/>
<polyline fill="none" stroke="#00d2e6" stroke-width="1.3" points="235.9,646.9 234.7,646.9 232.6,646.8 231.1,646.7 229.9,646.7 227.5,646.6 225.5,646.5 223.9,646.4 222.7,646.4 220.9,646.4 218.6,646.3 216.5,646.3 215.3,646.2 214.1,646.2 212.1,646.2 210,646.2 207.9,646.2 206.6,646.2 205.3,646.2 203.8,646.2 201.5,646.2 199.8,646.2 197.8,646.2 196.4,646.3 195.1,646.3 192.5,646.3 191.2,646.4 189.9,646.4 188.3,646.5 186.5,646.5 184.6,646.6 182.9,646.7 181.1,646.8 179.4,646.9 177.9,646.9 175.9,647 174.2,647.1 172.5,647.3 171.1,647.4 169.2,647.5"/>
<polygon points="43.7,610.1 218.2,662.1 311.8,581.9 152.5,543.2" fill="none" stroke="#000" stroke-width="0.9"/>
<line class="dl" x1="320" y1="429" x2="318.9" y2="428.8"/>
<circle class="pk" cx="320" cy="429" r="2.9"/>
<line class="dl" x1="219.3" y1="578.9" x2="219.4" y2="572.7"/>
<circle class="pk" cx="219.3" cy="578.9" r="2.9"/>
<g class="sf"><polygon fill="#4a9af7" points="219.4,572.7 225.1,564.6 215.2,559.7 209.6,567.6"/><polygon fill="#4aaef7" points="209.6,567.6 215.2,559.7 205.5,554.9 199.8,562.6"/><polygon fill="#4ac1f7" points="199.8,562.6 205.5,554.9 195.9,550.2 190.1,557.5"/><polygon fill="#4ad5f7" points="190.1,557.5 195.9,550.2 186.3,545.5 180.5,552.6"/><polygon fill="#4ae9f7" points="180.5,552.6 186.3,545.5 176.8,540.8 170.9,547.6"/><polygon fill="#4af7f2" points="170.9,547.6 176.8,540.8 167.4,536.1 161.5,542.7"/><polygon fill="#4af7de" points="161.5,542.7 167.4,536.1 158.1,531.5 152.1,537.9"/><polygon fill="#4af7ca" points="152.1,537.9 158.1,531.5 148.8,527 142.8,533.1"/><polygon fill="#4af7b7" points="142.8,533.1 148.8,527 139.6,522.4 133.6,528.3"/><polygon fill="#4af7a3" points="133.6,528.3 139.6,522.4 130.5,517.9 124.5,523.5"/><polygon fill="#4af78f" points="124.5,523.5 130.5,517.9 121.5,513.5 115.4,518.8"/><polygon fill="#4af77b" points="115.4,518.8 121.5,513.5 112.6,509 106.4,514.2"/><polygon fill="#4af767" points="106.4,514.2 112.6,509 103.7,504.6 97.5,509.5"/><polygon fill="#4af753" points="97.5,509.5 103.7,504.6 94.9,500.3 88.6,504.9"/><polygon fill="#55f74a" points="88.6,504.9 94.9,500.3 86.2,496 79.9,500.4"/><polygon fill="#69f74a" points="79.9,500.4 86.2,496 77.5,491.7 71.2,495.8"/><polygon fill="#7df74a" points="71.2,495.8 77.5,491.7 68.9,487.4 62.5,491.3"/><polygon fill="#91f74a" points="62.5,491.3 68.9,487.4 60.4,483.2 54,486.9"/><polygon fill="#a5f74a" points="54,486.9 60.4,483.2 52,479 45.5,482.4"/><polygon fill="#b9f74a" points="45.5,482.4 52,479 43.6,474.8 37.1,478"/><polygon fill="#4ab9f7" points="225.1,564.6 230.6,556.5 220.8,552 215.2,559.7"/><polygon fill="#4accf7" points="215.2,559.7 220.8,552 211.2,547.4 205.5,554.9"/><polygon fill="#4adef7" points="205.5,554.9 211.2,547.4 201.5,542.9 195.9,550.2"/><polygon fill="#4af0f7" points="195.9,550.2 201.5,542.9 192,538.5 186.3,545.5"/><polygon fill="#4af7ec" points="186.3,545.5 192,538.5 182.6,534 176.8,540.8"/><polygon fill="#4af7da" points="176.8,540.8 182.6,534 173.2,529.6 167.4,536.1"/><polygon fill="#4af7c8" points="167.4,536.1 173.2,529.6 163.9,525.3 158.1,531.5"/><polygon fill="#4af7b5" points="158.1,531.5 163.9,525.3 154.7,521 148.8,527"/><polygon fill="#4af7a3" points="148.8,527 154.7,521 145.6,516.7 139.6,522.4"/><polygon fill="#4af791" points="139.6,522.4 145.6,516.7 136.5,512.4 130.5,517.9"/><polygon fill="#4af77e" points="130.5,517.9 136.5,512.4 127.6,508.2 121.5,513.5"/><polygon fill="#4af76c" points="121.5,513.5 127.6,508.2 118.7,504 112.6,509"/><polygon fill="#4af75a" points="112.6,509 118.7,504 109.8,499.8 103.7,504.6"/><polygon fill="#4df74a" points="103.7,504.6 109.8,499.8 101.1,495.7 94.9,500.3"/><polygon fill="#60f74a" points="94.9,500.3 101.1,495.7 92.4,491.6 86.2,496"/><polygon fill="#72f74a" points="86.2,496 92.4,491.6 83.8,487.6 77.5,491.7"/><polygon fill="#85f74a" points="77.5,491.7 83.8,487.6 75.2,483.5 68.9,487.4"/><polygon fill="#97f74a" points="68.9,487.4 75.2,483.5 66.8,479.5 60.4,483.2"/><polygon fill="#aaf74a" points="60.4,483.2 66.8,479.5 58.4,475.6 52,479"/><polygon fill="#bcf74a" points="52,479 58.4,475.6 50,471.6 43.6,474.8"/><polygon fill="#4ad9f7" points="230.6,556.5 236.1,548.6 226.4,544.3 220.8,552"/><polygon fill="#4ae9f7" points="220.8,552 226.4,544.3 216.7,540 211.2,547.4"/><polygon fill="#4af7f4" points="211.2,547.4 216.7,540 207.1,535.8 201.5,542.9"/><polygon fill="#4af7e4" points="201.5,542.9 207.1,535.8 197.7,531.5 192,538.5"/><polygon fill="#4af7d3" points="192,538.5 197.7,531.5 188.3,527.4 182.6,534"/><polygon fill="#4af7c2" points="182.6,534 188.3,527.4 178.9,523.2 173.2,529.6"/><polygon fill="#4af7b1" points="173.2,529.6 178.9,523.2 169.7,519.1 163.9,525.3"/><polygon fill="#4af7a1" points="163.9,525.3 169.7,519.1 160.5,515 154.7,521"/><polygon fill="#4af790" points="154.7,521 160.5,515 151.4,511 145.6,516.7"/><polygon fill="#4af77f" points="145.6,516.7 151.4,511 142.4,507 136.5,512.4"/><polygon fill="#4af76e" points="136.5,512.4 142.4,507 133.5,503 127.6,508.2"/><polygon fill="#4af75d" points="127.6,508.2 133.5,503 124.6,499 118.7,504"/><polygon fill="#4af74c" points="118.7,504 124.6,499 115.9,495.1 109.8,499.8"/><polygon fill="#59f74a" points="109.8,499.8 115.9,495.1 107.2,491.2 101.1,495.7"/><polygon fill="#6af74a" points="101.1,495.7 107.2,491.2 98.5,487.4 92.4,491.6"/><polygon fill="#7bf74a" points="92.4,491.6 98.5,487.4 90,483.5 83.8,487.6"/><polygon fill="#8cf74a" points="83.8,487.6 90,483.5 81.5,479.7 75.2,483.5"/><polygon fill="#9df74a" points="75.2,483.5 81.5,479.7 73,476 66.8,479.5"/><polygon fill="#aef74a" points="66.8,479.5 73,476 64.7,472.2 58.4,475.6"/><polygon fill="#bff74a" points="58.4,475.6 64.7,472.2 56.4,468.5 50,471.6"/><polygon fill="#4af7f6" points="236.1,548.6 241.5,540.8 231.8,536.7 226.4,544.3"/><polygon fill="#4af7e7" points="226.4,544.3 231.8,536.7 222.2,532.7 216.7,540"/><polygon fill="#4af7d8" points="216.7,540 222.2,532.7 212.7,528.7 207.1,535.8"/><polygon fill="#4af7c9" points="207.1,535.8 212.7,528.7 203.2,524.7 197.7,531.5"/><polygon fill="#4af7ba" points="197.7,531.5 203.2,524.7 193.9,520.8 188.3,527.4"/><polygon fill="#4af7aa" points="188.3,527.4 193.9,520.8 184.6,516.9 178.9,523.2"/><polygon fill="#4af79b" points="178.9,523.2 184.6,516.9 175.4,513 169.7,519.1"/><polygon fill="#4af78c" points="169.7,519.1 175.4,513 166.3,509.2 160.5,515"/><polygon fill="#4af77c" points="160.5,515 166.3,509.2 157.2,505.4 151.4,511"/><polygon fill="#4af76d" points="151.4,511 157.2,505.4 148.3,501.6 142.4,507"/><polygon fill="#4af75e" points="142.4,507 148.3,501.6 139.4,497.9 133.5,503"/><polygon fill="#4af74e" points="133.5,503 139.4,497.9 130.5,494.1 124.6,499"/><polygon fill="#56f74a" points="124.6,499 130.5,494.1 121.8,490.5 115.9,495.1"/><polygon fill="#65f74a" points="115.9,495.1 121.8,490.5 113.1,486.8 107.2,491.2"/><polygon fill="#74f74a" points="107.2,491.2 113.1,486.8 104.6,483.2 98.5,487.4"/><polygon fill="#84f74a" points="98.5,487.4 104.6,483.2 96,479.6 90,483.5"/><polygon fill="#93f74a" points="90,483.5 96,479.6 87.6,476 81.5,479.7"/><polygon fill="#a3f74a" points="81.5,479.7 87.6,476 79.2,472.5 73,476"/><polygon fill="#b2f74a" points="73,476 79.2,472.5 70.9,468.9 64.7,472.2"/><polygon fill="#c2f74a" points="64.7,472.2 70.9,468.9 62.6,465.4 56.4,468.5"/><polygon fill="#4af7d7" points="241.5,540.8 246.9,533.1 237.2,529.3 231.8,536.7"/><polygon fill="#4af7c9" points="231.8,536.7 237.2,529.3 227.6,525.5 222.2,532.7"/><polygon fill="#4af7bc" points="222.2,532.7 227.6,525.5 218.1,521.7 212.7,528.7"/><polygon fill="#4af7ae" points="212.7,528.7 218.1,521.7 208.7,518 203.2,524.7"/><polygon fill="#4af7a0" points="203.2,524.7 208.7,518 199.4,514.3 193.9,520.8"/><polygon fill="#4af792" points="193.9,520.8 199.4,514.3 190.2,510.7 184.6,516.9"/><polygon fill="#4af785" points="184.6,516.9 190.2,510.7 181,507 175.4,513"/><polygon fill="#4af777" points="175.4,513 181,507 171.9,503.4 166.3,509.2"/><polygon fill="#4af769" points="166.3,509.2 171.9,503.4 162.9,499.9 157.2,505.4"/><polygon fill="#4af75b" points="157.2,505.4 162.9,499.9 154,496.3 148.3,501.6"/><polygon fill="#4af74d" points="148.3,501.6 154,496.3 145.1,492.8 139.4,497.9"/><polygon fill="#55f74a" points="139.4,497.9 145.1,492.8 136.4,489.3 130.5,494.1"/><polygon fill="#63f74a" points="130.5,494.1 136.4,489.3 127.7,485.9 121.8,490.5"/><polygon fill="#71f74a" points="121.8,490.5 127.7,485.9 119,482.4 113.1,486.8"/><polygon fill="#7ff74a" points="113.1,486.8 119,482.4 110.5,479 104.6,483.2"/><polygon fill="#8df74a" points="104.6,483.2 110.5,479 102,475.7 96,479.6"/><polygon fill="#9bf74a" points="96,479.6 102,475.7 93.6,472.3 87.6,476"/><polygon fill="#a9f74a" points="87.6,476 93.6,472.3 85.3,469 79.2,472.5"/><polygon fill="#b7f74a" points="79.2,472.5 85.3,469 77,465.7 70.9,468.9"/><polygon fill="#c5f74a" points="70.9,468.9 77,465.7 68.8,462.4 62.6,465.4"/><polygon fill="#4af7b8" points="246.9,533.1 252.1,525.5 242.5,521.9 237.2,529.3"/><polygon fill="#4af7ab" points="237.2,529.3 242.5,521.9 232.9,518.4 227.6,525.5"/><polygon fill="#4af79f" points="227.6,525.5 232.9,518.4 223.5,514.9 218.1,521.7"/><polygon fill="#4af793" points="218.1,521.7 223.5,514.9 214.1,511.4 208.7,518"/><polygon fill="#4af787" points="208.7,518 214.1,511.4 204.8,507.9 199.4,514.3"/><polygon fill="#4af77b" points="199.4,514.3 204.8,507.9 195.6,504.5 190.2,510.7"/><polygon fill="#4af76e" points="190.2,510.7 195.6,504.5 186.5,501.1 181,507"/><polygon fill="#4af762" points="181,507 186.5,501.1 177.5,497.8 171.9,503.4"/><polygon fill="#4af756" points="171.9,503.4 177.5,497.8 168.5,494.4 162.9,499.9"/><polygon fill="#4bf74a" points="162.9,499.9 168.5,494.4 159.6,491.1 154,496.3"/><polygon fill="#57f74a" points="154,496.3 159.6,491.1 150.8,487.8 145.1,492.8"/><polygon fill="#64f74a" points="145.1,492.8 150.8,487.8 142.1,484.6 136.4,489.3"/><polygon fill="#70f74a" points="136.4,489.3 142.1,484.6 133.4,481.3 127.7,485.9"/><polygon fill="#7df74a" points="127.7,485.9 133.4,481.3 124.9,478.1 119,482.4"/><polygon fill="#89f74a" points="119,482.4 124.9,478.1 116.4,475 110.5,479"/><polygon fill="#95f74a" points="110.5,479 116.4,475 107.9,471.8 102,475.7"/><polygon fill="#a2f74a" points="102,475.7 107.9,471.8 99.5,468.7 93.6,472.3"/><polygon fill="#aef74a" points="93.6,472.3 99.5,468.7 91.3,465.6 85.3,469"/><polygon fill="#bbf74a" points="85.3,469 91.3,465.6 83,462.5 77,465.7"/><polygon fill="#c7f74a" points="77,465.7 83,462.5 74.9,459.4 68.8,462.4"/><polygon fill="#4af798" points="252.1,525.5 257.3,518 247.7,514.6 242.5,521.9"/><polygon fill="#4af78e" points="242.5,521.9 247.7,514.6 238.2,511.4 232.9,518.4"/><polygon fill="#4af783" points="232.9,518.4 238.2,511.4 228.8,508.1 223.5,514.9"/><polygon fill="#4af778" points="223.5,514.9 228.8,508.1 219.5,504.9 214.1,511.4"/><polygon fill="#4af76d" points="214.1,511.4 219.5,504.9 210.2,501.6 204.8,507.9"/><polygon fill="#4af763" points="204.8,507.9 210.2,501.6 201.1,498.5 195.6,504.5"/><polygon fill="#4af758" points="195.6,504.5 201.1,498.5 192,495.3 186.5,501.1"/><polygon fill="#4af74d" points="186.5,501.1 192,495.3 183,492.2 177.5,497.8"/><polygon fill="#52f74a" points="177.5,497.8 183,492.2 174.1,489.1 168.5,494.4"/><polygon fill="#5df74a" points="168.5,494.4 174.1,489.1 165.2,486 159.6,491.1"/><polygon fill="#68f74a" points="159.6,491.1 165.2,486 156.4,482.9 150.8,487.8"/><polygon fill="#73f74a" points="150.8,487.8 156.4,482.9 147.8,479.9 142.1,484.6"/><polygon fill="#7ef74a" points="142.1,484.6 147.8,479.9 139.1,476.9 133.4,481.3"/><polygon fill="#88f74a" points="133.4,481.3 139.1,476.9 130.6,473.9 124.9,478.1"/><polygon fill="#93f74a" points="124.9,478.1 130.6,473.9 122.1,470.9 116.4,475"/><polygon fill="#9ef74a" points="116.4,475 122.1,470.9 113.7,468 107.9,471.8"/><polygon fill="#a9f74a" points="107.9,471.8 113.7,468 105.4,465.1 99.5,468.7"/><polygon fill="#b4f74a" points="99.5,468.7 105.4,465.1 97.1,462.2 91.3,465.6"/><polygon fill="#bff74a" points="91.3,465.6 97.1,462.2 89,459.3 83,462.5"/><polygon fill="#caf74a" points="83,462.5 89,459.3 80.8,456.5 74.9,459.4"/><polygon fill="#4af779" points="257.3,518 262.4,510.6 252.9,507.5 247.7,514.6"/><polygon fill="#4af770" points="247.7,514.6 252.9,507.5 243.4,504.4 238.2,511.4"/><polygon fill="#4af766" points="238.2,511.4 243.4,504.4 234,501.4 228.8,508.1"/><polygon fill="#4af75d" points="228.8,508.1 234,501.4 224.7,498.4 219.5,504.9"/><polygon fill="#4af754" points="219.5,504.9 224.7,498.4 215.5,495.4 210.2,501.6"/><polygon fill="#4af74b" points="210.2,501.6 215.5,495.4 206.4,492.5 201.1,498.5"/><polygon fill="#53f74a" points="201.1,498.5 206.4,492.5 197.4,489.6 192,495.3"/><polygon fill="#5cf74a" points="192,495.3 197.4,489.6 188.4,486.7 183,492.2"/><polygon fill="#66f74a" points="183,492.2 188.4,486.7 179.5,483.8 174.1,489.1"/><polygon fill="#6ff74a" points="174.1,489.1 179.5,483.8 170.7,480.9 165.2,486"/><polygon fill="#78f74a" points="165.2,486 170.7,480.9 162,478.1 156.4,482.9"/><polygon fill="#82f74a" points="156.4,482.9 162,478.1 153.3,475.3 147.8,479.9"/><polygon fill="#8bf74a" points="147.8,479.9 153.3,475.3 144.7,472.5 139.1,476.9"/><polygon fill="#94f74a" points="139.1,476.9 144.7,472.5 136.2,469.7 130.6,473.9"/><polygon fill="#9ef74a" points="130.6,473.9 136.2,469.7 127.8,467 122.1,470.9"/><polygon fill="#a7f74a" points="122.1,470.9 127.8,467 119.5,464.3 113.7,468"/><polygon fill="#b1f74a" points="113.7,468 119.5,464.3 111.2,461.6 105.4,465.1"/><polygon fill="#baf74a" points="105.4,465.1 111.2,461.6 103,458.9 97.1,462.2"/><polygon fill="#c4f74a" points="97.1,462.2 103,458.9 94.8,456.2 89,459.3"/><polygon fill="#cdf74a" points="89,459.3 94.8,456.2 86.7,453.6 80.8,456.5"/><polygon fill="#4af759" points="262.4,510.6 267.5,503.3 258,500.4 252.9,507.5"/><polygon fill="#4af752" points="252.9,507.5 258,500.4 248.5,497.6 243.4,504.4"/><polygon fill="#4af74a" points="243.4,504.4 248.5,497.6 239.2,494.8 234,501.4"/><polygon fill="#52f74a" points="234,501.4 239.2,494.8 229.9,492 224.7,498.4"/><polygon fill="#5af74a" points="224.7,498.4 229.9,492 220.8,489.3 215.5,495.4"/><polygon fill="#62f74a" points="215.5,495.4 220.8,489.3 211.7,486.6 206.4,492.5"/><polygon fill="#69f74a" points="206.4,492.5 211.7,486.6 202.7,483.9 197.4,489.6"/><polygon fill="#71f74a" points="197.4,489.6 202.7,483.9 193.7,481.2 188.4,486.7"/><polygon fill="#79f74a" points="188.4,486.7 193.7,481.2 184.9,478.6 179.5,483.8"/><polygon fill="#81f74a" points="179.5,483.8 184.9,478.6 176.1,475.9 170.7,480.9"/><polygon fill="#89f74a" points="170.7,480.9 176.1,475.9 167.4,473.3 162,478.1"/><polygon fill="#90f74a" points="162,478.1 167.4,473.3 158.8,470.7 153.3,475.3"/><polygon fill="#98f74a" points="153.3,475.3 158.8,470.7 150.3,468.2 144.7,472.5"/><polygon fill="#a0f74a" points="144.7,472.5 150.3,468.2 141.8,465.6 136.2,469.7"/><polygon fill="#a8f74a" points="136.2,469.7 141.8,465.6 133.4,463.1 127.8,467"/><polygon fill="#b0f74a" points="127.8,467 133.4,463.1 125.1,460.6 119.5,464.3"/><polygon fill="#b8f74a" points="119.5,464.3 125.1,460.6 116.9,458.1 111.2,461.6"/><polygon fill="#c0f74a" points="111.2,461.6 116.9,458.1 108.7,455.6 103,458.9"/><polygon fill="#c8f74a" points="103,458.9 108.7,455.6 100.6,453.1 94.8,456.2"/><polygon fill="#d0f74a" points="94.8,456.2 100.6,453.1 92.5,450.7 86.7,453.6"/><polygon fill="#5af74a" points="267.5,503.3 272.5,496 263,493.4 258,500.4"/><polygon fill="#61f74a" points="258,500.4 263,493.4 253.6,490.9 248.5,497.6"/><polygon fill="#67f74a" points="248.5,497.6 253.6,490.9 244.3,488.3 239.2,494.8"/><polygon fill="#6df74a" points="239.2,494.8 244.3,488.3 235.1,485.8 229.9,492"/><polygon fill="#73f74a" points="229.9,492 235.1,485.8 225.9,483.3 220.8,489.3"/><polygon fill="#79f74a" points="220.8,489.3 225.9,483.3 216.9,480.8 211.7,486.6"/><polygon fill="#80f74a" points="211.7,486.6 216.9,480.8 207.9,478.3 202.7,483.9"/><polygon fill="#86f74a" points="202.7,483.9 207.9,478.3 199,475.8 193.7,481.2"/><polygon fill="#8cf74a" points="193.7,481.2 199,475.8 190.2,473.4 184.9,478.6"/><polygon fill="#93f74a" points="184.9,478.6 190.2,473.4 181.5,471 176.1,475.9"/><polygon fill="#99f74a" points="176.1,475.9 181.5,471 172.8,468.6 167.4,473.3"/><polygon fill="#9ff74a" points="167.4,473.3 172.8,468.6 164.2,466.2 158.8,470.7"/><polygon fill="#a6f74a" points="158.8,470.7 164.2,466.2 155.7,463.9 150.3,468.2"/><polygon fill="#acf74a" points="150.3,468.2 155.7,463.9 147.3,461.5 141.8,465.6"/><polygon fill="#b2f74a" points="141.8,465.6 147.3,461.5 139,459.2 133.4,463.1"/><polygon fill="#b9f74a" points="133.4,463.1 139,459.2 130.7,456.9 125.1,460.6"/><polygon fill="#bff74a" points="125.1,460.6 130.7,456.9 122.5,454.6 116.9,458.1"/><polygon fill="#c6f74a" points="116.9,458.1 122.5,454.6 114.3,452.4 108.7,455.6"/><polygon fill="#ccf74a" points="108.7,455.6 114.3,452.4 106.3,450.1 100.6,453.1"/><polygon fill="#d3f74a" points="100.6,453.1 106.3,450.1 98.3,447.9 92.5,450.7"/><polygon fill="#7af74a" points="272.5,496 277.4,488.9 267.9,486.6 263,493.4"/><polygon fill="#7ff74a" points="263,493.4 267.9,486.6 258.6,484.2 253.6,490.9"/><polygon fill="#83f74a" points="253.6,490.9 258.6,484.2 249.3,481.9 244.3,488.3"/><polygon fill="#88f74a" points="244.3,488.3 249.3,481.9 240.1,479.6 235.1,485.8"/><polygon fill="#8df74a" points="235.1,485.8 240.1,479.6 231,477.3 225.9,483.3"/><polygon fill="#91f74a" points="225.9,483.3 231,477.3 222,475 216.9,480.8"/><polygon fill="#96f74a" points="216.9,480.8 222,475 213.1,472.8 207.9,478.3"/><polygon fill="#9bf74a" points="207.9,478.3 213.1,472.8 204.2,470.5 199,475.8"/><polygon fill="#a0f74a" points="199,475.8 204.2,470.5 195.4,468.3 190.2,473.4"/><polygon fill="#a4f74a" points="190.2,473.4 195.4,468.3 186.7,466.1 181.5,471"/><polygon fill="#a9f74a" points="181.5,471 186.7,466.1 178.1,464 172.8,468.6"/><polygon fill="#aef74a" points="172.8,468.6 178.1,464 169.6,461.8 164.2,466.2"/><polygon fill="#b3f74a" points="164.2,466.2 169.6,461.8 161.1,459.7 155.7,463.9"/><polygon fill="#b8f74a" points="155.7,463.9 161.1,459.7 152.7,457.5 147.3,461.5"/><polygon fill="#bdf74a" points="147.3,461.5 152.7,457.5 144.4,455.4 139,459.2"/><polygon fill="#c2f74a" points="139,459.2 144.4,455.4 136.2,453.3 130.7,456.9"/><polygon fill="#c7f74a" points="130.7,456.9 136.2,453.3 128,451.3 122.5,454.6"/><polygon fill="#ccf74a" points="122.5,454.6 128,451.3 119.9,449.2 114.3,452.4"/><polygon fill="#d1f74a" points="114.3,452.4 119.9,449.2 111.9,447.1 106.3,450.1"/><polygon fill="#d6f74a" points="106.3,450.1 111.9,447.1 103.9,445.1 98.3,447.9"/><polygon fill="#99f74a" points="277.4,488.9 282.2,481.9 272.8,479.8 267.9,486.6"/><polygon fill="#9cf74a" points="267.9,486.6 272.8,479.8 263.5,477.7 258.6,484.2"/><polygon fill="#a0f74a" points="258.6,484.2 263.5,477.7 254.3,475.6 249.3,481.9"/><polygon fill="#a3f74a" points="249.3,481.9 254.3,475.6 245.1,473.5 240.1,479.6"/><polygon fill="#a6f74a" points="240.1,479.6 245.1,473.5 236,471.4 231,477.3"/><polygon fill="#a9f74a" points="231,477.3 236,471.4 227,469.4 222,475"/><polygon fill="#adf74a" points="222,475 227,469.4 218.1,467.3 213.1,472.8"/><polygon fill="#b0f74a" points="213.1,472.8 218.1,467.3 209.3,465.3 204.2,470.5"/><polygon fill="#b3f74a" points="204.2,470.5 209.3,465.3 200.6,463.3 195.4,468.3"/><polygon fill="#b6f74a" points="195.4,468.3 200.6,463.3 191.9,461.3 186.7,466.1"/><polygon fill="#baf74a" points="186.7,466.1 191.9,461.3 183.3,459.4 178.1,464"/><polygon fill="#bdf74a" points="178.1,464 183.3,459.4 174.8,457.4 169.6,461.8"/><polygon fill="#c0f74a" points="169.6,461.8 174.8,457.4 166.4,455.5 161.1,459.7"/><polygon fill="#c4f74a" points="161.1,459.7 166.4,455.5 158.1,453.6 152.7,457.5"/><polygon fill="#c7f74a" points="152.7,457.5 158.1,453.6 149.8,451.7 144.4,455.4"/><polygon fill="#cbf74a" points="144.4,455.4 149.8,451.7 141.6,449.8 136.2,453.3"/><polygon fill="#cef74a" points="136.2,453.3 141.6,449.8 133.4,447.9 128,451.3"/><polygon fill="#d1f74a" points="128,451.3 133.4,447.9 125.4,446.1 119.9,449.2"/><polygon fill="#d5f74a" points="119.9,449.2 125.4,446.1 117.4,444.2 111.9,447.1"/><polygon fill="#d8f74a" points="111.9,447.1 117.4,444.2 109.5,442.4 103.9,445.1"/><polygon fill="#b9f74a" points="282.2,481.9 287,475 277.7,473.1 272.8,479.8"/><polygon fill="#baf74a" points="272.8,479.8 277.7,473.1 268.4,471.2 263.5,477.7"/><polygon fill="#bcf74a" points="263.5,477.7 268.4,471.2 259.1,469.3 254.3,475.6"/><polygon fill="#bef74a" points="254.3,475.6 259.1,469.3 250,467.4 245.1,473.5"/><polygon fill="#bff74a" points="245.1,473.5 250,467.4 241,465.6 236,471.4"/><polygon fill="#c1f74a" points="236,471.4 241,465.6 232,463.8 227,469.4"/><polygon fill="#c3f74a" points="227,469.4 232,463.8 223.2,462 218.1,467.3"/><polygon fill="#c5f74a" points="218.1,467.3 223.2,462 214.4,460.2 209.3,465.3"/><polygon fill="#c6f74a" points="209.3,465.3 214.4,460.2 205.7,458.4 200.6,463.3"/><polygon fill="#c8f74a" points="200.6,463.3 205.7,458.4 197.1,456.6 191.9,461.3"/><polygon fill="#caf74a" points="191.9,461.3 197.1,456.6 188.5,454.9 183.3,459.4"/><polygon fill="#ccf74a" points="183.3,459.4 188.5,454.9 180,453.1 174.8,457.4"/><polygon fill="#cef74a" points="174.8,457.4 180,453.1 171.6,451.4 166.4,455.5"/><polygon fill="#d0f74a" points="166.4,455.5 171.6,451.4 163.3,449.7 158.1,453.6"/><polygon fill="#d2f74a" points="158.1,453.6 163.3,449.7 155.1,448 149.8,451.7"/><polygon fill="#d3f74a" points="149.8,451.7 155.1,448 146.9,446.3 141.6,449.8"/><polygon fill="#d5f74a" points="141.6,449.8 146.9,446.3 138.8,444.6 133.4,447.9"/><polygon fill="#d7f74a" points="133.4,447.9 138.8,444.6 130.8,443 125.4,446.1"/><polygon fill="#d9f74a" points="125.4,446.1 130.8,443 122.8,441.3 117.4,444.2"/><polygon fill="#dbf74a" points="117.4,444.2 122.8,441.3 114.9,439.7 109.5,442.4"/><polygon fill="#d8f74a" points="287,475 291.8,468.1 282.4,466.4 277.7,473.1"/><polygon fill="#d8f74a" points="277.7,473.1 282.4,466.4 273.2,464.8 268.4,471.2"/><polygon fill="#d9f74a" points="268.4,471.2 273.2,464.8 264,463.1 259.1,469.3"/><polygon fill="#d9f74a" points="259.1,469.3 264,463.1 254.9,461.5 250,467.4"/><polygon fill="#d9f74a" points="250,467.4 254.9,461.5 245.9,459.9 241,465.6"/><polygon fill="#d9f74a" points="241,465.6 245.9,459.9 237,458.3 232,463.8"/><polygon fill="#d9f74a" points="232,463.8 237,458.3 228.1,456.7 223.2,462"/><polygon fill="#daf74a" points="223.2,462 228.1,456.7 219.4,455.1 214.4,460.2"/><polygon fill="#daf74a" points="214.4,460.2 219.4,455.1 210.7,453.5 205.7,458.4"/><polygon fill="#daf74a" points="205.7,458.4 210.7,453.5 202.1,452 197.1,456.6"/><polygon fill="#daf74a" points="197.1,456.6 202.1,452 193.6,450.4 188.5,454.9"/><polygon fill="#dbf74a" points="188.5,454.9 193.6,450.4 185.2,448.9 180,453.1"/><polygon fill="#dbf74a" points="180,453.1 185.2,448.9 176.8,447.4 171.6,451.4"/><polygon fill="#dbf74a" points="171.6,451.4 176.8,447.4 168.5,445.8 163.3,449.7"/><polygon fill="#dcf74a" points="163.3,449.7 168.5,445.8 160.3,444.3 155.1,448"/><polygon fill="#dcf74a" points="155.1,448 160.3,444.3 152.2,442.9 146.9,446.3"/><polygon fill="#ddf74a" points="146.9,446.3 152.2,442.9 144.1,441.4 138.8,444.6"/><polygon fill="#ddf74a" points="138.8,444.6 144.1,441.4 136.1,439.9 130.8,443"/><polygon fill="#def74a" points="130.8,443 136.1,439.9 128.2,438.5 122.8,441.3"/><polygon fill="#def74a" points="122.8,441.3 128.2,438.5 120.3,437 114.9,439.7"/><polygon fill="#f7f74a" points="291.8,468.1 296.4,461.4 287.1,459.9 282.4,466.4"/><polygon fill="#f6f74a" points="282.4,466.4 287.1,459.9 277.9,458.5 273.2,464.8"/><polygon fill="#f5f74a" points="273.2,464.8 277.9,458.5 268.7,457 264,463.1"/><polygon fill="#f4f74a" points="264,463.1 268.7,457 259.7,455.6 254.9,461.5"/><polygon fill="#f2f74a" points="254.9,461.5 259.7,455.6 250.7,454.2 245.9,459.9"/><polygon fill="#f1f74a" points="245.9,459.9 250.7,454.2 241.8,452.8 237,458.3"/><polygon fill="#f0f74a" points="237,458.3 241.8,452.8 233,451.4 228.1,456.7"/><polygon fill="#eef74a" points="228.1,456.7 233,451.4 224.3,450.1 219.4,455.1"/><polygon fill="#edf74a" points="219.4,455.1 224.3,450.1 215.7,448.7 210.7,453.5"/><polygon fill="#ecf74a" points="210.7,453.5 215.7,448.7 207.1,447.4 202.1,452"/><polygon fill="#ebf74a" points="202.1,452 207.1,447.4 198.6,446 193.6,450.4"/><polygon fill="#eaf74a" points="193.6,450.4 198.6,446 190.2,444.7 185.2,448.9"/><polygon fill="#e8f74a" points="185.2,448.9 190.2,444.7 181.9,443.4 176.8,447.4"/><polygon fill="#e7f74a" points="176.8,447.4 181.9,443.4 173.6,442.1 168.5,445.8"/><polygon fill="#e6f74a" points="168.5,445.8 173.6,442.1 165.5,440.8 160.3,444.3"/><polygon fill="#e5f74a" points="160.3,444.3 165.5,440.8 157.4,439.5 152.2,442.9"/><polygon fill="#e4f74a" points="152.2,442.9 157.4,439.5 149.3,438.2 144.1,441.4"/><polygon fill="#e3f74a" points="144.1,441.4 149.3,438.2 141.4,436.9 136.1,439.9"/><polygon fill="#e2f74a" points="136.1,439.9 141.4,436.9 133.5,435.6 128.2,438.5"/><polygon fill="#e1f74a" points="128.2,438.5 133.5,435.6 125.7,434.4 120.3,437"/><polygon fill="#f7d84a" points="296.4,461.4 301.1,454.7 291.8,453.5 287.1,459.9"/><polygon fill="#f7da4a" points="287.1,459.9 291.8,453.5 282.6,452.2 277.9,458.5"/><polygon fill="#f7dd4a" points="277.9,458.5 282.6,452.2 273.4,451 268.7,457"/><polygon fill="#f7e04a" points="268.7,457 273.4,451 264.4,449.8 259.7,455.6"/><polygon fill="#f7e34a" points="259.7,455.6 264.4,449.8 255.5,448.6 250.7,454.2"/><polygon fill="#f7e64a" points="250.7,454.2 255.5,448.6 246.6,447.5 241.8,452.8"/><polygon fill="#f7e94a" points="241.8,452.8 246.6,447.5 237.8,446.3 233,451.4"/><polygon fill="#f7eb4a" points="233,451.4 237.8,446.3 229.2,445.1 224.3,450.1"/><polygon fill="#f7ee4a" points="224.3,450.1 229.2,445.1 220.6,444 215.7,448.7"/><polygon fill="#f7f14a" points="215.7,448.7 220.6,444 212,442.8 207.1,447.4"/><polygon fill="#f7f34a" points="207.1,447.4 212,442.8 203.6,441.7 198.6,446"/><polygon fill="#f7f64a" points="198.6,446 203.6,441.7 195.2,440.5 190.2,444.7"/><polygon fill="#f6f74a" points="190.2,444.7 195.2,440.5 186.9,439.4 181.9,443.4"/><polygon fill="#f3f74a" points="181.9,443.4 186.9,439.4 178.7,438.3 173.6,442.1"/><polygon fill="#f1f74a" points="173.6,442.1 178.7,438.3 170.5,437.2 165.5,440.8"/><polygon fill="#eef74a" points="165.5,440.8 170.5,437.2 162.5,436.1 157.4,439.5"/><polygon fill="#ebf74a" points="157.4,439.5 162.5,436.1 154.5,435 149.3,438.2"/><polygon fill="#e9f74a" points="149.3,438.2 154.5,435 146.6,433.9 141.4,436.9"/><polygon fill="#e6f74a" points="141.4,436.9 146.6,433.9 138.7,432.9 133.5,435.6"/><polygon fill="#e4f74a" points="133.5,435.6 138.7,432.9 130.9,431.8 125.7,434.4"/><polygon fill="#f7b84a" points="301.1,454.7 305.6,448.1 296.3,447.1 291.8,453.5"/><polygon fill="#f7bd4a" points="291.8,453.5 296.3,447.1 287.2,446.1 282.6,452.2"/><polygon fill="#f7c14a" points="282.6,452.2 287.2,446.1 278.1,445.1 273.4,451"/><polygon fill="#f7c54a" points="273.4,451 278.1,445.1 269.1,444.1 264.4,449.8"/><polygon fill="#f7ca4a" points="264.4,449.8 269.1,444.1 260.2,443.1 255.5,448.6"/><polygon fill="#f7ce4a" points="255.5,448.6 260.2,443.1 251.4,442.2 246.6,447.5"/><polygon fill="#f7d24a" points="246.6,447.5 251.4,442.2 242.6,441.2 237.8,446.3"/><polygon fill="#f7d64a" points="237.8,446.3 242.6,441.2 234,440.2 229.2,445.1"/><polygon fill="#f7db4a" points="229.2,445.1 234,440.2 225.4,439.3 220.6,444"/><polygon fill="#f7df4a" points="220.6,444 225.4,439.3 216.9,438.3 212,442.8"/><polygon fill="#f7e34a" points="212,442.8 216.9,438.3 208.5,437.4 203.6,441.7"/><polygon fill="#f7e74a" points="203.6,441.7 208.5,437.4 200.1,436.5 195.2,440.5"/><polygon fill="#f7eb4a" points="195.2,440.5 200.1,436.5 191.9,435.5 186.9,439.4"/><polygon fill="#f7f04a" points="186.9,439.4 191.9,435.5 183.7,434.6 178.7,438.3"/><polygon fill="#f7f44a" points="178.7,438.3 183.7,434.6 175.6,433.7 170.5,437.2"/><polygon fill="#f7f74a" points="170.5,437.2 175.6,433.7 167.5,432.8 162.5,436.1"/><polygon fill="#f3f74a" points="162.5,436.1 167.5,432.8 159.6,431.9 154.5,435"/><polygon fill="#eff74a" points="154.5,435 159.6,431.9 151.7,431 146.6,433.9"/><polygon fill="#ebf74a" points="146.6,433.9 151.7,431 143.9,430.1 138.7,432.9"/><polygon fill="#e7f74a" points="138.7,432.9 143.9,430.1 136.1,429.2 130.9,431.8"/><polygon fill="#f7994a" points="305.6,448.1 310.1,441.6 300.9,440.8 296.3,447.1"/><polygon fill="#f79f4a" points="296.3,447.1 300.9,440.8 291.7,440 287.2,446.1"/><polygon fill="#f7a44a" points="287.2,446.1 291.7,440 282.7,439.2 278.1,445.1"/><polygon fill="#f7aa4a" points="278.1,445.1 282.7,439.2 273.7,438.5 269.1,444.1"/><polygon fill="#f7b04a" points="269.1,444.1 273.7,438.5 264.8,437.7 260.2,443.1"/><polygon fill="#f7b64a" points="260.2,443.1 264.8,437.7 256,436.9 251.4,442.2"/><polygon fill="#f7bc4a" points="251.4,442.2 256,436.9 247.3,436.2 242.6,441.2"/><polygon fill="#f7c14a" points="242.6,441.2 247.3,436.2 238.7,435.4 234,440.2"/><polygon fill="#f7c74a" points="234,440.2 238.7,435.4 230.1,434.7 225.4,439.3"/><polygon fill="#f7cd4a" points="225.4,439.3 230.1,434.7 221.7,433.9 216.9,438.3"/><polygon fill="#f7d34a" points="216.9,438.3 221.7,433.9 213.3,433.2 208.5,437.4"/><polygon fill="#f7d84a" points="208.5,437.4 213.3,433.2 205,432.4 200.1,436.5"/><polygon fill="#f7de4a" points="200.1,436.5 205,432.4 196.8,431.7 191.9,435.5"/><polygon fill="#f7e44a" points="191.9,435.5 196.8,431.7 188.6,431 183.7,434.6"/><polygon fill="#f7e94a" points="183.7,434.6 188.6,431 180.5,430.3 175.6,433.7"/><polygon fill="#f7ef4a" points="175.6,433.7 180.5,430.3 172.5,429.5 167.5,432.8"/><polygon fill="#f7f54a" points="167.5,432.8 172.5,429.5 164.6,428.8 159.6,431.9"/><polygon fill="#f5f74a" points="159.6,431.9 164.6,428.8 156.7,428.1 151.7,431"/><polygon fill="#eff74a" points="151.7,431 156.7,428.1 148.9,427.4 143.9,430.1"/><polygon fill="#e9f74a" points="143.9,430.1 148.9,427.4 141.2,426.7 136.1,429.2"/><polygon fill="#f7794a" points="310.1,441.6 314.6,435.2 305.3,434.6 300.9,440.8"/><polygon fill="#f7814a" points="300.9,440.8 305.3,434.6 296.2,434 291.7,440"/><polygon fill="#f7884a" points="291.7,440 296.2,434 287.2,433.4 282.7,439.2"/><polygon fill="#f78f4a" points="282.7,439.2 287.2,433.4 278.3,432.9 273.7,438.5"/><polygon fill="#f7974a" points="273.7,438.5 278.3,432.9 269.4,432.3 264.8,437.7"/><polygon fill="#f79e4a" points="264.8,437.7 269.4,432.3 260.6,431.8 256,436.9"/><polygon fill="#f7a54a" points="256,436.9 260.6,431.8 252,431.2 247.3,436.2"/><polygon fill="#f7ad4a" points="247.3,436.2 252,431.2 243.4,430.6 238.7,435.4"/><polygon fill="#f7b44a" points="238.7,435.4 243.4,430.6 234.8,430.1 230.1,434.7"/><polygon fill="#f7bb4a" points="230.1,434.7 234.8,430.1 226.4,429.5 221.7,433.9"/><polygon fill="#f7c24a" points="221.7,433.9 226.4,429.5 218.1,429 213.3,433.2"/><polygon fill="#f7ca4a" points="213.3,433.2 218.1,429 209.8,428.5 205,432.4"/><polygon fill="#f7d14a" points="205,432.4 209.8,428.5 201.6,427.9 196.8,431.7"/><polygon fill="#f7d84a" points="196.8,431.7 201.6,427.9 193.5,427.4 188.6,431"/><polygon fill="#f7df4a" points="188.6,431 193.5,427.4 185.4,426.9 180.5,430.3"/><polygon fill="#f7e64a" points="180.5,430.3 185.4,426.9 177.4,426.3 172.5,429.5"/><polygon fill="#f7ed4a" points="172.5,429.5 177.4,426.3 169.5,425.8 164.6,428.8"/><polygon fill="#f7f44a" points="164.6,428.8 169.5,425.8 161.7,425.3 156.7,428.1"/><polygon fill="#f3f74a" points="156.7,428.1 161.7,425.3 153.9,424.8 148.9,427.4"/><polygon fill="#ecf74a" points="148.9,427.4 153.9,424.8 146.3,424.2 141.2,426.7"/><polygon fill="#f75a4a" points="314.6,435.2 318.9,428.8 309.8,428.5 305.3,434.6"/><polygon fill="#f7634a" points="305.3,434.6 309.8,428.5 300.7,428.1 296.2,434"/><polygon fill="#f76c4a" points="296.2,434 300.7,428.1 291.7,427.7 287.2,433.4"/><polygon fill="#f7744a" points="287.2,433.4 291.7,427.7 282.8,427.4 278.3,432.9"/><polygon fill="#f77d4a" points="278.3,432.9 282.8,427.4 273.9,427 269.4,432.3"/><polygon fill="#f7864a" points="269.4,432.3 273.9,427 265.2,426.7 260.6,431.8"/><polygon fill="#f78f4a" points="260.6,431.8 265.2,426.7 256.5,426.3 252,431.2"/><polygon fill="#f7984a" points="252,431.2 256.5,426.3 248,425.9 243.4,430.6"/><polygon fill="#f7a04a" points="243.4,430.6 248,425.9 239.5,425.6 234.8,430.1"/><polygon fill="#f7a94a" points="234.8,430.1 239.5,425.6 231.1,425.2 226.4,429.5"/><polygon fill="#f7b24a" points="226.4,429.5 231.1,425.2 222.8,424.9 218.1,429"/><polygon fill="#f7bb4a" points="218.1,429 222.8,424.9 214.5,424.5 209.8,428.5"/><polygon fill="#f7c34a" points="209.8,428.5 214.5,424.5 206.3,424.2 201.6,427.9"/><polygon fill="#f7cc4a" points="201.6,427.9 206.3,424.2 198.2,423.8 193.5,427.4"/><polygon fill="#f7d54a" points="193.5,427.4 198.2,423.8 190.2,423.5 185.4,426.9"/><polygon fill="#f7dd4a" points="185.4,426.9 190.2,423.5 182.3,423.2 177.4,426.3"/><polygon fill="#f7e64a" points="177.4,426.3 182.3,423.2 174.4,422.8 169.5,425.8"/><polygon fill="#f7ee4a" points="169.5,425.8 174.4,422.8 166.6,422.5 161.7,425.3"/><polygon fill="#f7f74a" points="161.7,425.3 166.6,422.5 158.9,422.1 153.9,424.8"/><polygon fill="#eff74a" points="153.9,424.8 158.9,422.1 151.2,421.8 146.3,424.2"/></g>
<line class="dl" x1="272.3" y1="502.4" x2="272.5" y2="496"/>
<circle class="pk" cx="272.3" cy="502.4" r="2.9"/>
<line class="dl" x1="37" y1="476.9" x2="37.1" y2="478"/>
<circle class="rd" cx="37" cy="476.9" r="2.9"/>
<line class="dl" x1="151.2" y1="415.4" x2="151.2" y2="421.8"/>
<circle class="rd" cx="151.2" cy="415.4" r="2.9"/>
<line class="dl" x1="231.2" y1="418.4" x2="231.1" y2="425.2"/>
<circle class="rd" cx="231.2" cy="418.4" r="2.9"/>
<line class="dl" x1="124.1" y1="503.8" x2="124.5" y2="523.5"/>
<circle class="rd" cx="124.1" cy="503.8" r="2.9"/>
<circle class="tk" cx="41.4" cy="564.5" r="1.2"/>
<text transform="translate(36.6 562) scale(0.93 1)" font-size="8.48" text-anchor="end" font-family='"Liberation Sans", sans-serif' fill="#222">-30</text>
<circle class="tk" cx="39.6" cy="527.7" r="1.2"/>
<text transform="translate(34.8 525.2) scale(0.93 1)" font-size="8.48" text-anchor="end" font-family='"Liberation Sans", sans-serif' fill="#222">-25</text>
<circle class="tk" cx="37.7" cy="491" r="1.2"/>
<text transform="translate(32.9 488.5) scale(0.93 1)" font-size="8.48" text-anchor="end" font-family='"Liberation Sans", sans-serif' fill="#222">-20</text>
<circle class="tk" cx="35.9" cy="454.2" r="1.2"/>
<text transform="translate(31.1 451.7) scale(0.93 1)" font-size="8.48" text-anchor="end" font-family='"Liberation Sans", sans-serif' fill="#222">-15</text>
<circle class="tk" cx="34" cy="417.4" r="1.2"/>
<text transform="translate(29.2 414.9) scale(0.93 1)" font-size="8.48" text-anchor="end" font-family='"Liberation Sans", sans-serif' fill="#222">-10</text>
<circle class="tk" cx="43.7" cy="610.1" r="1.2"/>
<text transform="translate(39.2 617.6) scale(0.93 1)" font-size="8.48" text-anchor="end" font-family='"Liberation Sans", sans-serif' fill="#222">2</text>
<circle class="tk" cx="87.3" cy="623.1" r="1.2"/>
<text transform="translate(82.8 630.6) scale(0.93 1)" font-size="8.48" text-anchor="end" font-family='"Liberation Sans", sans-serif' fill="#222">1.5</text>
<circle class="tk" cx="131" cy="636.1" r="1.2"/>
<text transform="translate(126.5 643.6) scale(0.93 1)" font-size="8.48" text-anchor="end" font-family='"Liberation Sans", sans-serif' fill="#222">1</text>
<circle class="tk" cx="174.6" cy="649.1" r="1.2"/>
<text transform="translate(170.1 656.6) scale(0.93 1)" font-size="8.48" text-anchor="end" font-family='"Liberation Sans", sans-serif' fill="#222">0.5</text>
<circle class="tk" cx="218.2" cy="662.1" r="1.2"/>
<text transform="translate(213.7 669.6) scale(0.93 1)" font-size="8.48" text-anchor="end" font-family='"Liberation Sans", sans-serif' fill="#222">0</text>
<circle class="tk" cx="218.2" cy="662.1" r="1.2"/>
<text transform="translate(222.7 669.6) scale(0.93 1)" font-size="8.48" text-anchor="start" font-family='"Liberation Sans", sans-serif' fill="#222">15</text>
<circle class="tk" cx="241.6" cy="642" r="1.2"/>
<text transform="translate(246.1 649.5) scale(0.93 1)" font-size="8.48" text-anchor="start" font-family='"Liberation Sans", sans-serif' fill="#222">20</text>
<circle class="tk" cx="265" cy="622" r="1.2"/>
<text transform="translate(269.5 629.5) scale(0.93 1)" font-size="8.48" text-anchor="start" font-family='"Liberation Sans", sans-serif' fill="#222">25</text>
<circle class="tk" cx="288.4" cy="601.9" r="1.2"/>
<text transform="translate(292.9 609.4) scale(0.93 1)" font-size="8.48" text-anchor="start" font-family='"Liberation Sans", sans-serif' fill="#222">30</text>
<circle class="tk" cx="311.8" cy="581.9" r="1.2"/>
<text transform="translate(316.3 589.4) scale(0.93 1)" font-size="8.48" text-anchor="start" font-family='"Liberation Sans", sans-serif' fill="#222">35</text>
<text transform="translate(89.8 656.3) scale(0.93 1)" font-size="10.65" text-anchor="middle" font-family='"Liberation Sans", sans-serif' fill="#222">Sonication Time (min)</text>
<text transform="translate(265.2 642.3) scale(0.93 1)" font-size="10.65" text-anchor="start" font-family='"Liberation Sans", sans-serif' fill="#222">Poloxamer 407 (%)</text>
<text transform="translate(16 514.7) rotate(-90) scale(0.93 1)" font-size="10.07" text-anchor="middle" font-family='"Liberation Sans", sans-serif' fill="#222">Zeta Potential (mV)</text>
<defs><linearGradient id="gb" gradientUnits="userSpaceOnUse" x1="415.2" y1="301.2" x2="723.9" y2="228.4"><stop offset="0.0000" stop-color="#ff6800"/><stop offset="0.1995" stop-color="#ffff00"/><stop offset="0.5357" stop-color="#00ff00"/><stop offset="0.8719" stop-color="#00ffff"/><stop offset="1.0000" stop-color="#009eff"/></linearGradient></defs>
<rect x="415.2" y="38" width="263.8" height="263.2" fill="url(#gb)"/>
<line class="ct" x1="488.9" y1="301.2" x2="426.8" y2="38"/>
<line class="ct" x1="562.8" y1="301.2" x2="500.7" y2="38"/>
<line class="ct" x1="636.7" y1="301.2" x2="574.6" y2="38"/>
<line class="ct" x1="679" y1="167.2" x2="648.5" y2="38"/>
<rect class="lb" x="450.8" y="161.8" width="13.5" height="7.9"/><text transform="translate(457.5 168.2) scale(0.93 1)" font-size="7.74" text-anchor="middle" font-family='"Liberation Serif", serif' fill="#111">180</text>
<rect class="lb" x="524.2" y="158.6" width="13.5" height="7.9"/><text transform="translate(531 165) scale(0.93 1)" font-size="7.74" text-anchor="middle" font-family='"Liberation Serif", serif' fill="#111">160</text>
<rect class="lb" x="599.2" y="161.6" width="13.5" height="7.9"/><text transform="translate(606 168) scale(0.93 1)" font-size="7.74" text-anchor="middle" font-family='"Liberation Serif", serif' fill="#111">140</text>
<rect class="lb" x="656.5" y="92.6" width="13.5" height="7.9"/><text transform="translate(663.2 99.1) scale(0.93 1)" font-size="7.74" text-anchor="middle" font-family='"Liberation Serif", serif' fill="#111">120</text>
<rect class="bd" x="415.2" y="38" width="263.8" height="263.2"/>
<line class="tkl" x1="415.2" y1="301.2" x2="415.2" y2="306.2"/>
<text transform="translate(415.2 316.2) scale(0.93 1)" font-size="7.95" text-anchor="middle" font-family='"Liberation Sans", sans-serif' fill="#222">15</text>
<line class="tkl" x1="481.1" y1="301.2" x2="481.1" y2="306.2"/>
<text transform="translate(481.1 316.2) scale(0.93 1)" font-size="7.95" text-anchor="middle" font-family='"Liberation Sans", sans-serif' fill="#222">20</text>
<line class="tkl" x1="547.1" y1="301.2" x2="547.1" y2="306.2"/>
<text transform="translate(547.1 316.2) scale(0.93 1)" font-size="7.95" text-anchor="middle" font-family='"Liberation Sans", sans-serif' fill="#222">25</text>
<line class="tkl" x1="613" y1="301.2" x2="613" y2="306.2"/>
<text transform="translate(613 316.2) scale(0.93 1)" font-size="7.95" text-anchor="middle" font-family='"Liberation Sans", sans-serif' fill="#222">30</text>
<line class="tkl" x1="679" y1="301.2" x2="679" y2="306.2"/>
<text transform="translate(679 316.2) scale(0.93 1)" font-size="7.95" text-anchor="middle" font-family='"Liberation Sans", sans-serif' fill="#222">35</text>
<line class="tkl" x1="409.2" y1="301.2" x2="415.2" y2="301.2"/>
<text transform="translate(406.9 303.5) scale(0.93 1)" font-size="7.95" text-anchor="end" font-family='"Liberation Sans", sans-serif' fill="#222">0</text>
<line class="tkl" x1="409.2" y1="235.4" x2="415.2" y2="235.4"/>
<text transform="translate(406.9 237.7) scale(0.93 1)" font-size="7.95" text-anchor="end" font-family='"Liberation Sans", sans-serif' fill="#222">0.5</text>
<line class="tkl" x1="409.2" y1="169.6" x2="415.2" y2="169.6"/>
<text transform="translate(406.9 171.9) scale(0.93 1)" font-size="7.95" text-anchor="end" font-family='"Liberation Sans", sans-serif' fill="#222">1</text>
<line class="tkl" x1="409.2" y1="103.8" x2="415.2" y2="103.8"/>
<text transform="translate(406.9 106.1) scale(0.93 1)" font-size="7.95" text-anchor="end" font-family='"Liberation Sans", sans-serif' fill="#222">1.5</text>
<line class="tkl" x1="409.2" y1="38" x2="415.2" y2="38"/>
<text transform="translate(406.9 40.3) scale(0.93 1)" font-size="7.95" text-anchor="end" font-family='"Liberation Sans", sans-serif' fill="#222">2</text>
<circle class="rd" cx="415.2" cy="301.2" r="2.7"/>
<circle class="rd" cx="415.2" cy="169.6" r="2.7"/>
<circle class="rd" cx="415.2" cy="38" r="2.7"/>
<circle class="rd" cx="547.1" cy="301.2" r="2.7"/>
<circle class="rd" cx="547.1" cy="169.6" r="2.7"/>
<circle class="rd" cx="547.1" cy="38" r="2.7"/>
<circle class="rd" cx="679" cy="301.2" r="2.7"/>
<circle class="rd" cx="679" cy="169.6" r="2.7"/>
<circle class="rd" cx="679" cy="38" r="2.7"/>
<text transform="translate(547.2 34.2) scale(0.93 1)" font-size="9.96" text-anchor="middle" font-family='"Liberation Serif", serif' fill="#222">Particle size (nm)</text>
<text transform="translate(547 328.6) scale(0.93 1)" font-size="11.02" text-anchor="middle" font-family='"Liberation Sans", sans-serif' fill="#222">Poloxamer 407 (%)</text>
<text transform="translate(394.4 169.2) rotate(-90) scale(0.93 1)" font-size="10.99" text-anchor="middle" font-family='"Liberation Sans", sans-serif' fill="#222">Sonication Time (min)</text>
<defs><linearGradient id="d0"><stop offset="0.000" stop-color="#afff00"/><stop offset="0.250" stop-color="#bfff00"/><stop offset="0.500" stop-color="#cfff00"/><stop offset="0.750" stop-color="#dfff00"/><stop offset="1.000" stop-color="#efff00"/></linearGradient><linearGradient id="d1"><stop offset="0.000" stop-color="#aaff00"/><stop offset="0.250" stop-color="#bcff00"/><stop offset="0.500" stop-color="#cdff00"/><stop offset="0.750" stop-color="#dfff00"/><stop offset="1.000" stop-color="#f1ff00"/></linearGradient><linearGradient id="d2"><stop offset="0.000" stop-color="#a6ff00"/><stop offset="0.250" stop-color="#b9ff00"/><stop offset="0.500" stop-color="#ccff00"/><stop offset="0.750" stop-color="#e0ff00"/><stop offset="1.000" stop-color="#f3ff00"/></linearGradient><linearGradient id="d3"><stop offset="0.000" stop-color="#a1ff00"/><stop offset="0.250" stop-color="#b6ff00"/><stop offset="0.500" stop-color="#cbff00"/><stop offset="0.750" stop-color="#e0ff00"/><stop offset="1.000" stop-color="#f5ff00"/></linearGradient><linearGradient id="d4"><stop offset="0.000" stop-color="#9cff00"/><stop offset="0.250" stop-color="#b3ff00"/><stop offset="0.500" stop-color="#caff00"/><stop offset="0.750" stop-color="#e0ff00"/><stop offset="1.000" stop-color="#f7ff00"/></linearGradient><linearGradient id="d5"><stop offset="0.000" stop-color="#98ff00"/><stop offset="0.250" stop-color="#b0ff00"/><stop offset="0.500" stop-color="#c8ff00"/><stop offset="0.750" stop-color="#e1ff00"/><stop offset="1.000" stop-color="#f9ff00"/></linearGradient><linearGradient id="d6"><stop offset="0.000" stop-color="#93ff00"/><stop offset="0.250" stop-color="#adff00"/><stop offset="0.500" stop-color="#c7ff00"/><stop offset="0.750" stop-color="#e1ff00"/><stop offset="1.000" stop-color="#fbff00"/></linearGradient><linearGradient id="d7"><stop offset="0.000" stop-color="#8fff00"/><stop offset="0.250" stop-color="#aaff00"/><stop offset="0.500" stop-color="#c6ff00"/><stop offset="0.750" stop-color="#e2ff00"/><stop offset="1.000" stop-color="#fdff00"/></linearGradient><linearGradient id="d8"><stop offset="0.000" stop-color="#8aff00"/><stop offset="0.250" stop-color="#a7ff00"/><stop offset="0.500" stop-color="#c5ff00"/><stop offset="0.750" stop-color="#e2ff00"/><stop offset="1.000" stop-color="#ffff00"/></linearGradient><linearGradient id="d9"><stop offset="0.000" stop-color="#86ff00"/><stop offset="0.250" stop-color="#a4ff00"/><stop offset="0.500" stop-color="#c3ff00"/><stop offset="0.750" stop-color="#e2ff00"/><stop offset="0.980" stop-color="#ffff00"/><stop offset="1.000" stop-color="#fffc00"/></linearGradient><linearGradient id="d10"><stop offset="0.000" stop-color="#81ff00"/><stop offset="0.250" stop-color="#a2ff00"/><stop offset="0.500" stop-color="#c2ff00"/><stop offset="0.750" stop-color="#e3ff00"/><stop offset="0.970" stop-color="#fffe00"/><stop offset="1.000" stop-color="#fffa00"/></linearGradient><linearGradient id="d11"><stop offset="0.000" stop-color="#7cff00"/><stop offset="0.250" stop-color="#9fff00"/><stop offset="0.500" stop-color="#c1ff00"/><stop offset="0.750" stop-color="#e3ff00"/><stop offset="0.955" stop-color="#ffff00"/><stop offset="1.000" stop-color="#fff800"/></linearGradient><linearGradient id="d12"><stop offset="0.000" stop-color="#78ff00"/><stop offset="0.250" stop-color="#9cff00"/><stop offset="0.500" stop-color="#c0ff00"/><stop offset="0.750" stop-color="#e4ff00"/><stop offset="0.945" stop-color="#fffe00"/><stop offset="1.000" stop-color="#fff600"/></linearGradient><linearGradient id="d13"><stop offset="0.000" stop-color="#73ff00"/><stop offset="0.250" stop-color="#99ff00"/><stop offset="0.500" stop-color="#beff00"/><stop offset="0.750" stop-color="#e4ff00"/><stop offset="0.930" stop-color="#ffff00"/><stop offset="1.000" stop-color="#fff400"/></linearGradient><linearGradient id="d14"><stop offset="0.000" stop-color="#6fff00"/><stop offset="0.250" stop-color="#96ff00"/><stop offset="0.500" stop-color="#bdff00"/><stop offset="0.750" stop-color="#e4ff00"/><stop offset="0.920" stop-color="#ffff00"/><stop offset="1.000" stop-color="#fff200"/></linearGradient><linearGradient id="d15"><stop offset="0.000" stop-color="#6aff00"/><stop offset="0.250" stop-color="#93ff00"/><stop offset="0.500" stop-color="#bcff00"/><stop offset="0.750" stop-color="#e5ff00"/><stop offset="0.910" stop-color="#ffff00"/><stop offset="1.000" stop-color="#fff000"/></linearGradient><linearGradient id="d16"><stop offset="0.000" stop-color="#66ff00"/><stop offset="0.250" stop-color="#90ff00"/><stop offset="0.500" stop-color="#bbff00"/><stop offset="0.750" stop-color="#e5ff00"/><stop offset="0.905" stop-color="#fffe00"/><stop offset="1.000" stop-color="#ffee00"/></linearGradient><linearGradient id="d17"><stop offset="0.000" stop-color="#61ff00"/><stop offset="0.250" stop-color="#8dff00"/><stop offset="0.500" stop-color="#b9ff00"/><stop offset="0.750" stop-color="#e6ff00"/><stop offset="0.895" stop-color="#ffff00"/><stop offset="1.000" stop-color="#ffec00"/></linearGradient><linearGradient id="d18"><stop offset="0.000" stop-color="#5cff00"/><stop offset="0.250" stop-color="#8aff00"/><stop offset="0.500" stop-color="#b8ff00"/><stop offset="0.750" stop-color="#e6ff00"/><stop offset="0.890" stop-color="#fffe00"/><stop offset="1.000" stop-color="#ffea00"/></linearGradient><linearGradient id="d19"><stop offset="0.000" stop-color="#58ff00"/><stop offset="0.250" stop-color="#87ff00"/><stop offset="0.500" stop-color="#b7ff00"/><stop offset="0.750" stop-color="#e6ff00"/><stop offset="0.880" stop-color="#ffff00"/><stop offset="1.000" stop-color="#ffe800"/></linearGradient><linearGradient id="d20"><stop offset="0.000" stop-color="#53ff00"/><stop offset="0.250" stop-color="#84ff00"/><stop offset="0.500" stop-color="#b6ff00"/><stop offset="0.750" stop-color="#e7ff00"/><stop offset="0.875" stop-color="#ffff00"/><stop offset="1.000" stop-color="#ffe600"/></linearGradient><linearGradient id="d21"><stop offset="0.000" stop-color="#4fff00"/><stop offset="0.250" stop-color="#81ff00"/><stop offset="0.500" stop-color="#b4ff00"/><stop offset="0.750" stop-color="#e7ff00"/><stop offset="0.870" stop-color="#fffe00"/><stop offset="1.000" stop-color="#ffe400"/></linearGradient><linearGradient id="d22"><stop offset="0.000" stop-color="#4aff00"/><stop offset="0.250" stop-color="#7fff00"/><stop offset="0.500" stop-color="#b3ff00"/><stop offset="0.750" stop-color="#e8ff00"/><stop offset="0.865" stop-color="#fffe00"/><stop offset="1.000" stop-color="#ffe200"/></linearGradient><linearGradient id="d23"><stop offset="0.000" stop-color="#46ff00"/><stop offset="0.250" stop-color="#7cff00"/><stop offset="0.500" stop-color="#b2ff00"/><stop offset="0.750" stop-color="#e8ff00"/><stop offset="0.860" stop-color="#fffe00"/><stop offset="1.000" stop-color="#ffe000"/></linearGradient><linearGradient id="d24"><stop offset="0.000" stop-color="#41ff00"/><stop offset="0.250" stop-color="#79ff00"/><stop offset="0.500" stop-color="#b1ff00"/><stop offset="0.750" stop-color="#e8ff00"/><stop offset="0.855" stop-color="#fffe00"/><stop offset="1.000" stop-color="#ffde00"/></linearGradient><linearGradient id="d25"><stop offset="0.000" stop-color="#3dff00"/><stop offset="0.250" stop-color="#76ff00"/><stop offset="0.500" stop-color="#afff00"/><stop offset="0.750" stop-color="#e9ff00"/><stop offset="0.850" stop-color="#fffe00"/><stop offset="1.000" stop-color="#ffdc00"/></linearGradient><linearGradient id="d26"><stop offset="0.000" stop-color="#38ff00"/><stop offset="0.250" stop-color="#73ff00"/><stop offset="0.500" stop-color="#aeff00"/><stop offset="0.750" stop-color="#e9ff00"/><stop offset="0.845" stop-color="#fffe00"/><stop offset="1.000" stop-color="#ffda00"/></linearGradient><linearGradient id="d27"><stop offset="0.000" stop-color="#33ff00"/><stop offset="0.250" stop-color="#70ff00"/><stop offset="0.500" stop-color="#adff00"/><stop offset="0.750" stop-color="#eaff00"/><stop offset="0.840" stop-color="#fffe00"/><stop offset="1.000" stop-color="#ffd800"/></linearGradient><linearGradient id="d28"><stop offset="0.000" stop-color="#2fff00"/><stop offset="0.250" stop-color="#6dff00"/><stop offset="0.500" stop-color="#acff00"/><stop offset="0.750" stop-color="#eaff00"/><stop offset="0.835" stop-color="#ffff00"/><stop offset="1.000" stop-color="#ffd500"/></linearGradient><linearGradient id="d29"><stop offset="0.000" stop-color="#2aff00"/><stop offset="0.250" stop-color="#6aff00"/><stop offset="0.500" stop-color="#aaff00"/><stop offset="0.750" stop-color="#eaff00"/><stop offset="0.835" stop-color="#fffe00"/><stop offset="1.000" stop-color="#ffd300"/></linearGradient><linearGradient id="d30"><stop offset="0.000" stop-color="#26ff00"/><stop offset="0.250" stop-color="#67ff00"/><stop offset="0.500" stop-color="#a9ff00"/><stop offset="0.750" stop-color="#ebff00"/><stop offset="0.830" stop-color="#fffe00"/><stop offset="1.000" stop-color="#ffd100"/></linearGradient><linearGradient id="d31"><stop offset="0.000" stop-color="#21ff00"/><stop offset="0.250" stop-color="#64ff00"/><stop offset="0.500" stop-color="#a8ff00"/><stop offset="0.750" stop-color="#ebff00"/><stop offset="0.825" stop-color="#ffff00"/><stop offset="1.000" stop-color="#ffcf00"/></linearGradient><linearGradient id="d32"><stop offset="0.000" stop-color="#1dff00"/><stop offset="0.250" stop-color="#62ff00"/><stop offset="0.500" stop-color="#a7ff00"/><stop offset="0.750" stop-color="#ecff00"/><stop offset="0.825" stop-color="#fffe00"/><stop offset="1.000" stop-color="#ffcd00"/></linearGradient><linearGradient id="d33"><stop offset="0.000" stop-color="#18ff00"/><stop offset="0.250" stop-color="#5fff00"/><stop offset="0.500" stop-color="#a5ff00"/><stop offset="0.750" stop-color="#ecff00"/><stop offset="0.820" stop-color="#fffe00"/><stop offset="1.000" stop-color="#ffcb00"/></linearGradient><linearGradient id="d34"><stop offset="0.000" stop-color="#13ff00"/><stop offset="0.250" stop-color="#5cff00"/><stop offset="0.500" stop-color="#a4ff00"/><stop offset="0.750" stop-color="#ecff00"/><stop offset="0.815" stop-color="#ffff00"/><stop offset="1.000" stop-color="#ffc900"/></linearGradient><linearGradient id="d35"><stop offset="0.000" stop-color="#0fff00"/><stop offset="0.250" stop-color="#59ff00"/><stop offset="0.500" stop-color="#a3ff00"/><stop offset="0.750" stop-color="#edff00"/><stop offset="0.815" stop-color="#fffe00"/><stop offset="1.000" stop-color="#ffc700"/></linearGradient><linearGradient id="d36"><stop offset="0.000" stop-color="#0aff00"/><stop offset="0.250" stop-color="#56ff00"/><stop offset="0.500" stop-color="#a2ff00"/><stop offset="0.750" stop-color="#edff00"/><stop offset="0.810" stop-color="#ffff00"/><stop offset="1.000" stop-color="#ffc500"/></linearGradient><linearGradient id="d37"><stop offset="0.000" stop-color="#06ff00"/><stop offset="0.250" stop-color="#53ff00"/><stop offset="0.500" stop-color="#a0ff00"/><stop offset="0.750" stop-color="#eeff00"/><stop offset="0.810" stop-color="#fffe00"/><stop offset="1.000" stop-color="#ffc300"/></linearGradient><linearGradient id="d38"><stop offset="0.000" stop-color="#01ff00"/><stop offset="0.250" stop-color="#50ff00"/><stop offset="0.500" stop-color="#9fff00"/><stop offset="0.750" stop-color="#eeff00"/><stop offset="0.805" stop-color="#ffff00"/><stop offset="1.000" stop-color="#ffc100"/></linearGradient><linearGradient id="d39"><stop offset="0.000" stop-color="#00ff03"/><stop offset="0.015" stop-color="#02ff00"/><stop offset="0.250" stop-color="#4dff00"/><stop offset="0.500" stop-color="#9eff00"/><stop offset="0.750" stop-color="#efff00"/><stop offset="0.805" stop-color="#fffe00"/><stop offset="1.000" stop-color="#ffbf00"/></linearGradient><linearGradient id="d40"><stop offset="0.000" stop-color="#00ff08"/><stop offset="0.025" stop-color="#00ff00"/><stop offset="0.250" stop-color="#4aff00"/><stop offset="0.500" stop-color="#9dff00"/><stop offset="0.750" stop-color="#efff00"/><stop offset="0.800" stop-color="#ffff00"/><stop offset="1.000" stop-color="#ffbd00"/></linearGradient><linearGradient id="d41"><stop offset="0.000" stop-color="#00ff0c"/><stop offset="0.040" stop-color="#01ff00"/><stop offset="0.250" stop-color="#47ff00"/><stop offset="0.500" stop-color="#9bff00"/><stop offset="0.750" stop-color="#efff00"/><stop offset="0.800" stop-color="#fffe00"/><stop offset="1.000" stop-color="#ffbb00"/></linearGradient><linearGradient id="d42"><stop offset="0.000" stop-color="#00ff11"/><stop offset="0.050" stop-color="#00ff00"/><stop offset="0.250" stop-color="#45ff00"/><stop offset="0.500" stop-color="#9aff00"/><stop offset="0.750" stop-color="#f0ff00"/><stop offset="0.795" stop-color="#ffff00"/><stop offset="1.000" stop-color="#ffb900"/></linearGradient><linearGradient id="d43"><stop offset="0.000" stop-color="#00ff15"/><stop offset="0.065" stop-color="#01ff00"/><stop offset="0.250" stop-color="#42ff00"/><stop offset="0.500" stop-color="#99ff00"/><stop offset="0.750" stop-color="#f0ff00"/><stop offset="0.795" stop-color="#fffe00"/><stop offset="1.000" stop-color="#ffb600"/></linearGradient><linearGradient id="d44"><stop offset="0.000" stop-color="#00ff1a"/><stop offset="0.075" stop-color="#01ff00"/><stop offset="0.250" stop-color="#3fff00"/><stop offset="0.500" stop-color="#98ff00"/><stop offset="0.750" stop-color="#f1ff00"/><stop offset="0.795" stop-color="#fffd00"/><stop offset="1.000" stop-color="#ffb400"/></linearGradient><linearGradient id="d45"><stop offset="0.000" stop-color="#00ff1f"/><stop offset="0.085" stop-color="#00ff00"/><stop offset="0.250" stop-color="#3cff00"/><stop offset="0.500" stop-color="#96ff00"/><stop offset="0.750" stop-color="#f1ff00"/><stop offset="0.790" stop-color="#ffff00"/><stop offset="1.000" stop-color="#ffb200"/></linearGradient><linearGradient id="d46"><stop offset="0.000" stop-color="#00ff23"/><stop offset="0.100" stop-color="#02ff00"/><stop offset="0.250" stop-color="#39ff00"/><stop offset="0.500" stop-color="#95ff00"/><stop offset="0.750" stop-color="#f1ff00"/><stop offset="0.790" stop-color="#fffe00"/><stop offset="1.000" stop-color="#ffb000"/></linearGradient><linearGradient id="d47"><stop offset="0.000" stop-color="#00ff28"/><stop offset="0.110" stop-color="#02ff00"/><stop offset="0.250" stop-color="#36ff00"/><stop offset="0.500" stop-color="#94ff00"/><stop offset="0.750" stop-color="#f2ff00"/><stop offset="0.790" stop-color="#fffd00"/><stop offset="1.000" stop-color="#ffae00"/></linearGradient><linearGradient id="d48"><stop offset="0.000" stop-color="#00ff2c"/><stop offset="0.120" stop-color="#02ff00"/><stop offset="0.250" stop-color="#33ff00"/><stop offset="0.500" stop-color="#93ff00"/><stop offset="0.750" stop-color="#f2ff00"/><stop offset="0.785" stop-color="#fffe00"/><stop offset="1.000" stop-color="#ffac00"/></linearGradient><linearGradient id="d49"><stop offset="0.000" stop-color="#00ff31"/><stop offset="0.130" stop-color="#02ff00"/><stop offset="0.250" stop-color="#30ff00"/><stop offset="0.500" stop-color="#91ff00"/><stop offset="0.750" stop-color="#f3ff00"/><stop offset="0.785" stop-color="#fffe00"/><stop offset="1.000" stop-color="#ffaa00"/></linearGradient><linearGradient id="d50"><stop offset="0.000" stop-color="#00ff35"/><stop offset="0.140" stop-color="#02ff00"/><stop offset="0.250" stop-color="#2dff00"/><stop offset="0.500" stop-color="#90ff00"/><stop offset="0.750" stop-color="#f3ff00"/><stop offset="0.785" stop-color="#fffd00"/><stop offset="1.000" stop-color="#ffa800"/></linearGradient><linearGradient id="d51"><stop offset="0.000" stop-color="#00ff3a"/><stop offset="0.145" stop-color="#00ff00"/><stop offset="0.250" stop-color="#2bff00"/><stop offset="0.500" stop-color="#8fff00"/><stop offset="0.750" stop-color="#f3ff00"/><stop offset="0.780" stop-color="#fffe00"/><stop offset="1.000" stop-color="#ffa600"/></linearGradient><linearGradient id="d52"><stop offset="0.000" stop-color="#00ff3e"/><stop offset="0.155" stop-color="#01ff00"/><stop offset="0.250" stop-color="#28ff00"/><stop offset="0.500" stop-color="#8eff00"/><stop offset="0.750" stop-color="#f4ff00"/><stop offset="0.780" stop-color="#fffe00"/><stop offset="1.000" stop-color="#ffa400"/></linearGradient><linearGradient id="d53"><stop offset="0.000" stop-color="#00ff43"/><stop offset="0.165" stop-color="#01ff00"/><stop offset="0.250" stop-color="#25ff00"/><stop offset="0.500" stop-color="#8dff00"/><stop offset="0.750" stop-color="#f4ff00"/><stop offset="0.780" stop-color="#fffd00"/><stop offset="1.000" stop-color="#ffa200"/></linearGradient><linearGradient id="d54"><stop offset="0.000" stop-color="#00ff47"/><stop offset="0.170" stop-color="#00ff00"/><stop offset="0.250" stop-color="#22ff00"/><stop offset="0.500" stop-color="#8bff00"/><stop offset="0.750" stop-color="#f5ff00"/><stop offset="0.775" stop-color="#ffff00"/><stop offset="1.000" stop-color="#ffa000"/></linearGradient><linearGradient id="d55"><stop offset="0.000" stop-color="#00ff4c"/><stop offset="0.180" stop-color="#01ff00"/><stop offset="0.250" stop-color="#1fff00"/><stop offset="0.500" stop-color="#8aff00"/><stop offset="0.750" stop-color="#f5ff00"/><stop offset="0.775" stop-color="#fffe00"/><stop offset="1.000" stop-color="#ff9e00"/></linearGradient><linearGradient id="d56"><stop offset="0.000" stop-color="#00ff51"/><stop offset="0.190" stop-color="#02ff00"/><stop offset="0.250" stop-color="#1cff00"/><stop offset="0.500" stop-color="#89ff00"/><stop offset="0.750" stop-color="#f6ff00"/><stop offset="0.775" stop-color="#fffe00"/><stop offset="1.000" stop-color="#ff9c00"/></linearGradient><linearGradient id="d57"><stop offset="0.000" stop-color="#00ff55"/><stop offset="0.195" stop-color="#01ff00"/><stop offset="0.250" stop-color="#19ff00"/><stop offset="0.500" stop-color="#88ff00"/><stop offset="0.750" stop-color="#f6ff00"/><stop offset="0.775" stop-color="#fffd00"/><stop offset="1.000" stop-color="#ff9900"/></linearGradient><linearGradient id="d58"><stop offset="0.000" stop-color="#00ff5a"/><stop offset="0.205" stop-color="#02ff00"/><stop offset="0.250" stop-color="#16ff00"/><stop offset="0.500" stop-color="#86ff00"/><stop offset="0.750" stop-color="#f6ff00"/><stop offset="0.770" stop-color="#ffff00"/><stop offset="1.000" stop-color="#ff9700"/></linearGradient><linearGradient id="d59"><stop offset="0.000" stop-color="#00ff5e"/><stop offset="0.210" stop-color="#01ff00"/><stop offset="0.250" stop-color="#13ff00"/><stop offset="0.500" stop-color="#85ff00"/><stop offset="0.750" stop-color="#f7ff00"/><stop offset="0.770" stop-color="#fffe00"/><stop offset="1.000" stop-color="#ff9500"/></linearGradient><linearGradient id="d60"><stop offset="0.000" stop-color="#00ff63"/><stop offset="0.215" stop-color="#00ff00"/><stop offset="0.250" stop-color="#11ff00"/><stop offset="0.500" stop-color="#84ff00"/><stop offset="0.750" stop-color="#f7ff00"/><stop offset="0.770" stop-color="#fffd00"/><stop offset="1.000" stop-color="#ff9300"/></linearGradient><linearGradient id="d61"><stop offset="0.000" stop-color="#00ff67"/><stop offset="0.225" stop-color="#02ff00"/><stop offset="0.250" stop-color="#0eff00"/><stop offset="0.500" stop-color="#83ff00"/><stop offset="0.750" stop-color="#f8ff00"/><stop offset="0.770" stop-color="#fffd00"/><stop offset="1.000" stop-color="#ff9100"/></linearGradient><linearGradient id="d62"><stop offset="0.000" stop-color="#00ff6c"/><stop offset="0.230" stop-color="#01ff00"/><stop offset="0.250" stop-color="#0bff00"/><stop offset="0.500" stop-color="#81ff00"/><stop offset="0.750" stop-color="#f8ff00"/><stop offset="0.765" stop-color="#ffff00"/><stop offset="1.000" stop-color="#ff8f00"/></linearGradient><linearGradient id="d63"><stop offset="0.000" stop-color="#00ff70"/><stop offset="0.235" stop-color="#01ff00"/><stop offset="0.250" stop-color="#08ff00"/><stop offset="0.500" stop-color="#80ff00"/><stop offset="0.750" stop-color="#f9ff00"/><stop offset="0.765" stop-color="#fffe00"/><stop offset="1.000" stop-color="#ff8d00"/></linearGradient><linearGradient id="d64"><stop offset="0.000" stop-color="#00ff75"/><stop offset="0.240" stop-color="#00ff00"/><stop offset="0.250" stop-color="#05ff00"/><stop offset="0.500" stop-color="#7fff00"/><stop offset="0.750" stop-color="#f9ff00"/><stop offset="0.765" stop-color="#fffe00"/><stop offset="1.000" stop-color="#ff8b00"/></linearGradient><linearGradient id="d65"><stop offset="0.000" stop-color="#00ff79"/><stop offset="0.250" stop-color="#02ff00"/><stop offset="0.500" stop-color="#7eff00"/><stop offset="0.750" stop-color="#f9ff00"/><stop offset="0.765" stop-color="#fffd00"/><stop offset="1.000" stop-color="#ff8900"/></linearGradient><linearGradient id="d66"><stop offset="0.000" stop-color="#00ff7e"/><stop offset="0.250" stop-color="#00ff01"/><stop offset="0.255" stop-color="#02ff00"/><stop offset="0.500" stop-color="#7dff00"/><stop offset="0.750" stop-color="#faff00"/><stop offset="0.765" stop-color="#fffd00"/><stop offset="1.000" stop-color="#ff8700"/></linearGradient><linearGradient id="d67"><stop offset="0.000" stop-color="#00ff82"/><stop offset="0.250" stop-color="#00ff04"/><stop offset="0.260" stop-color="#01ff00"/><stop offset="0.500" stop-color="#7bff00"/><stop offset="0.750" stop-color="#faff00"/><stop offset="0.760" stop-color="#ffff00"/><stop offset="1.000" stop-color="#ff8500"/></linearGradient><linearGradient id="d68"><stop offset="0.000" stop-color="#00ff87"/><stop offset="0.250" stop-color="#00ff07"/><stop offset="0.265" stop-color="#01ff00"/><stop offset="0.500" stop-color="#7aff00"/><stop offset="0.750" stop-color="#fbff00"/><stop offset="0.760" stop-color="#fffe00"/><stop offset="1.000" stop-color="#ff8300"/></linearGradient><linearGradient id="d69"><stop offset="0.000" stop-color="#00ff8c"/><stop offset="0.250" stop-color="#00ff09"/><stop offset="0.270" stop-color="#01ff00"/><stop offset="0.500" stop-color="#79ff00"/><stop offset="0.750" stop-color="#fbff00"/><stop offset="0.760" stop-color="#fffe00"/><stop offset="1.000" stop-color="#ff8000"/></linearGradient><linearGradient id="d70"><stop offset="0.000" stop-color="#00ff90"/><stop offset="0.250" stop-color="#00ff0c"/><stop offset="0.275" stop-color="#01ff00"/><stop offset="0.500" stop-color="#78ff00"/><stop offset="0.750" stop-color="#fcff00"/><stop offset="0.760" stop-color="#fffd00"/><stop offset="1.000" stop-color="#ff7e00"/></linearGradient><linearGradient id="d71"><stop offset="0.000" stop-color="#00ff95"/><stop offset="0.250" stop-color="#00ff0f"/><stop offset="0.280" stop-color="#01ff00"/><stop offset="0.500" stop-color="#76ff00"/><stop offset="0.750" stop-color="#fcff00"/><stop offset="0.760" stop-color="#fffd00"/><stop offset="1.000" stop-color="#ff7c00"/></linearGradient><linearGradient id="d72"><stop offset="0.000" stop-color="#00ff99"/><stop offset="0.250" stop-color="#00ff12"/><stop offset="0.285" stop-color="#01ff00"/><stop offset="0.500" stop-color="#75ff00"/><stop offset="0.750" stop-color="#fcff00"/><stop offset="0.755" stop-color="#ffff00"/><stop offset="1.000" stop-color="#ff7a00"/></linearGradient><linearGradient id="d73"><stop offset="0.000" stop-color="#00ff9e"/><stop offset="0.250" stop-color="#00ff15"/><stop offset="0.290" stop-color="#01ff00"/><stop offset="0.500" stop-color="#74ff00"/><stop offset="0.750" stop-color="#fdff00"/><stop offset="0.755" stop-color="#fffe00"/><stop offset="1.000" stop-color="#ff7800"/></linearGradient><linearGradient id="d74"><stop offset="0.000" stop-color="#00ffa2"/><stop offset="0.250" stop-color="#00ff18"/><stop offset="0.295" stop-color="#01ff00"/><stop offset="0.500" stop-color="#73ff00"/><stop offset="0.750" stop-color="#fdff00"/><stop offset="0.755" stop-color="#fffe00"/><stop offset="1.000" stop-color="#ff7600"/></linearGradient><linearGradient id="d75"><stop offset="0.000" stop-color="#00ffa7"/><stop offset="0.250" stop-color="#00ff1b"/><stop offset="0.300" stop-color="#01ff00"/><stop offset="0.500" stop-color="#72ff00"/><stop offset="0.750" stop-color="#feff00"/><stop offset="0.755" stop-color="#fffd00"/><stop offset="1.000" stop-color="#ff7400"/></linearGradient><linearGradient id="d76"><stop offset="0.000" stop-color="#00ffab"/><stop offset="0.250" stop-color="#00ff1e"/><stop offset="0.305" stop-color="#02ff00"/><stop offset="0.500" stop-color="#70ff00"/><stop offset="0.750" stop-color="#feff00"/><stop offset="0.755" stop-color="#fffd00"/><stop offset="1.000" stop-color="#ff7200"/></linearGradient><linearGradient id="d77"><stop offset="0.000" stop-color="#00ffb0"/><stop offset="0.250" stop-color="#00ff20"/><stop offset="0.310" stop-color="#02ff00"/><stop offset="0.500" stop-color="#6fff00"/><stop offset="0.750" stop-color="#ffff00"/><stop offset="0.755" stop-color="#fffd00"/><stop offset="1.000" stop-color="#ff7000"/></linearGradient><linearGradient id="d78"><stop offset="0.000" stop-color="#00ffb4"/><stop offset="0.250" stop-color="#00ff23"/><stop offset="0.315" stop-color="#02ff00"/><stop offset="0.500" stop-color="#6eff00"/><stop offset="0.750" stop-color="#ffff00"/><stop offset="1.000" stop-color="#ff6e00"/></linearGradient><linearGradient id="d79"><stop offset="0.000" stop-color="#00ffb9"/><stop offset="0.250" stop-color="#00ff26"/><stop offset="0.315" stop-color="#00ff00"/><stop offset="0.500" stop-color="#6dff00"/><stop offset="0.750" stop-color="#ffff00"/><stop offset="1.000" stop-color="#ff6c00"/></linearGradient><linearGradient id="d80"><stop offset="0.000" stop-color="#00ffbd"/><stop offset="0.250" stop-color="#00ff29"/><stop offset="0.320" stop-color="#01ff00"/><stop offset="0.500" stop-color="#6bff00"/><stop offset="0.750" stop-color="#fffe00"/><stop offset="1.000" stop-color="#ff6900"/></linearGradient><linearGradient id="d81"><stop offset="0.000" stop-color="#00ffc2"/><stop offset="0.250" stop-color="#00ff2c"/><stop offset="0.325" stop-color="#01ff00"/><stop offset="0.500" stop-color="#6aff00"/><stop offset="0.750" stop-color="#fffe00"/><stop offset="1.000" stop-color="#ff6700"/></linearGradient><linearGradient id="d82"><stop offset="0.000" stop-color="#00ffc6"/><stop offset="0.250" stop-color="#00ff2f"/><stop offset="0.330" stop-color="#02ff00"/><stop offset="0.500" stop-color="#69ff00"/><stop offset="0.750" stop-color="#fffd00"/><stop offset="1.000" stop-color="#ff6500"/></linearGradient><linearGradient id="d83"><stop offset="0.000" stop-color="#00ffcb"/><stop offset="0.250" stop-color="#00ff32"/><stop offset="0.335" stop-color="#03ff00"/><stop offset="0.500" stop-color="#68ff00"/><stop offset="0.750" stop-color="#fffd00"/><stop offset="1.000" stop-color="#ff6300"/></linearGradient><linearGradient id="d84"><stop offset="0.000" stop-color="#00ffcf"/><stop offset="0.250" stop-color="#00ff35"/><stop offset="0.335" stop-color="#00ff00"/><stop offset="0.500" stop-color="#67ff00"/><stop offset="0.750" stop-color="#fffc00"/><stop offset="1.000" stop-color="#ff6100"/></linearGradient><linearGradient id="d85"><stop offset="0.000" stop-color="#00ffd4"/><stop offset="0.250" stop-color="#00ff37"/><stop offset="0.340" stop-color="#01ff00"/><stop offset="0.500" stop-color="#65ff00"/><stop offset="0.750" stop-color="#fffc00"/><stop offset="1.000" stop-color="#ff5f00"/></linearGradient><linearGradient id="d86"><stop offset="0.000" stop-color="#00ffd9"/><stop offset="0.250" stop-color="#00ff3a"/><stop offset="0.345" stop-color="#02ff00"/><stop offset="0.500" stop-color="#64ff00"/><stop offset="0.745" stop-color="#ffff00"/><stop offset="0.750" stop-color="#fffb00"/><stop offset="1.000" stop-color="#ff5d00"/></linearGradient><linearGradient id="d87"><stop offset="0.000" stop-color="#00ffdd"/><stop offset="0.250" stop-color="#00ff3d"/><stop offset="0.350" stop-color="#03ff00"/><stop offset="0.500" stop-color="#63ff00"/><stop offset="0.745" stop-color="#fffe00"/><stop offset="0.750" stop-color="#fffb00"/><stop offset="1.000" stop-color="#ff5b00"/></linearGradient><linearGradient id="d88"><stop offset="0.000" stop-color="#00ffe2"/><stop offset="0.250" stop-color="#00ff40"/><stop offset="0.350" stop-color="#01ff00"/><stop offset="0.500" stop-color="#62ff00"/><stop offset="0.745" stop-color="#fffe00"/><stop offset="0.750" stop-color="#fffb00"/><stop offset="1.000" stop-color="#ff5900"/></linearGradient><linearGradient id="d89"><stop offset="0.000" stop-color="#00ffe6"/><stop offset="0.250" stop-color="#00ff43"/><stop offset="0.355" stop-color="#02ff00"/><stop offset="0.500" stop-color="#60ff00"/><stop offset="0.745" stop-color="#fffd00"/><stop offset="0.750" stop-color="#fffa00"/><stop offset="1.000" stop-color="#ff5700"/></linearGradient><linearGradient id="d90"><stop offset="0.000" stop-color="#00ffeb"/><stop offset="0.250" stop-color="#00ff46"/><stop offset="0.360" stop-color="#03ff00"/><stop offset="0.500" stop-color="#5fff00"/><stop offset="0.745" stop-color="#fffd00"/><stop offset="0.750" stop-color="#fffa00"/><stop offset="1.000" stop-color="#ff5500"/></linearGradient><linearGradient id="d91"><stop offset="0.000" stop-color="#00ffef"/><stop offset="0.250" stop-color="#00ff49"/><stop offset="0.360" stop-color="#01ff00"/><stop offset="0.500" stop-color="#5eff00"/><stop offset="0.745" stop-color="#fffd00"/><stop offset="0.750" stop-color="#fff900"/><stop offset="1.000" stop-color="#ff5200"/></linearGradient><linearGradient id="d92"><stop offset="0.000" stop-color="#00fff4"/><stop offset="0.250" stop-color="#00ff4b"/><stop offset="0.365" stop-color="#02ff00"/><stop offset="0.500" stop-color="#5dff00"/><stop offset="0.745" stop-color="#fffc00"/><stop offset="0.750" stop-color="#fff900"/><stop offset="1.000" stop-color="#ff5000"/></linearGradient><linearGradient id="d93"><stop offset="0.000" stop-color="#00fff8"/><stop offset="0.250" stop-color="#00ff4e"/><stop offset="0.370" stop-color="#03ff00"/><stop offset="0.500" stop-color="#5cff00"/><stop offset="0.745" stop-color="#fffc00"/><stop offset="0.750" stop-color="#fff800"/><stop offset="1.000" stop-color="#ff4e00"/></linearGradient><linearGradient id="d94"><stop offset="0.000" stop-color="#00fffd"/><stop offset="0.250" stop-color="#00ff51"/><stop offset="0.370" stop-color="#01ff00"/><stop offset="0.500" stop-color="#5aff00"/><stop offset="0.740" stop-color="#ffff00"/><stop offset="0.750" stop-color="#fff800"/><stop offset="1.000" stop-color="#ff4c00"/></linearGradient><linearGradient id="d95"><stop offset="0.000" stop-color="#00fdff"/><stop offset="0.005" stop-color="#00fffe"/><stop offset="0.250" stop-color="#00ff54"/><stop offset="0.375" stop-color="#03ff00"/><stop offset="0.500" stop-color="#59ff00"/><stop offset="0.740" stop-color="#fffe00"/><stop offset="0.750" stop-color="#fff700"/><stop offset="1.000" stop-color="#ff4a00"/></linearGradient><linearGradient id="d96"><stop offset="0.000" stop-color="#00f8ff"/><stop offset="0.010" stop-color="#00ffff"/><stop offset="0.250" stop-color="#00ff57"/><stop offset="0.375" stop-color="#01ff00"/><stop offset="0.500" stop-color="#58ff00"/><stop offset="0.740" stop-color="#fffe00"/><stop offset="0.750" stop-color="#fff700"/><stop offset="1.000" stop-color="#ff4800"/></linearGradient><linearGradient id="d97"><stop offset="0.000" stop-color="#00f4ff"/><stop offset="0.020" stop-color="#00fffc"/><stop offset="0.250" stop-color="#00ff5a"/><stop offset="0.380" stop-color="#02ff00"/><stop offset="0.500" stop-color="#57ff00"/><stop offset="0.740" stop-color="#fffe00"/><stop offset="0.750" stop-color="#fff700"/><stop offset="1.000" stop-color="#ff4600"/></linearGradient><linearGradient id="d98"><stop offset="0.000" stop-color="#00efff"/><stop offset="0.025" stop-color="#00fffd"/><stop offset="0.250" stop-color="#00ff5d"/><stop offset="0.380" stop-color="#00ff00"/><stop offset="0.500" stop-color="#56ff00"/><stop offset="0.740" stop-color="#fffd00"/><stop offset="0.750" stop-color="#fff600"/><stop offset="1.000" stop-color="#ff4400"/></linearGradient><linearGradient id="d99"><stop offset="0.000" stop-color="#00ebff"/><stop offset="0.030" stop-color="#00fffe"/><stop offset="0.250" stop-color="#00ff5f"/><stop offset="0.385" stop-color="#02ff00"/><stop offset="0.500" stop-color="#54ff00"/><stop offset="0.740" stop-color="#fffd00"/><stop offset="0.750" stop-color="#fff600"/><stop offset="1.000" stop-color="#ff4200"/></linearGradient><linearGradient id="d100"><stop offset="0.000" stop-color="#00e6ff"/><stop offset="0.035" stop-color="#00fffe"/><stop offset="0.250" stop-color="#00ff62"/><stop offset="0.390" stop-color="#03ff00"/><stop offset="0.500" stop-color="#53ff00"/><stop offset="0.740" stop-color="#fffc00"/><stop offset="0.750" stop-color="#fff500"/><stop offset="1.000" stop-color="#ff4000"/></linearGradient><linearGradient id="d101"><stop offset="0.000" stop-color="#00e2ff"/><stop offset="0.045" stop-color="#00fffb"/><stop offset="0.250" stop-color="#00ff65"/><stop offset="0.390" stop-color="#01ff00"/><stop offset="0.500" stop-color="#52ff00"/><stop offset="0.740" stop-color="#fffc00"/><stop offset="0.750" stop-color="#fff500"/><stop offset="1.000" stop-color="#ff3d00"/></linearGradient><linearGradient id="d102"><stop offset="0.000" stop-color="#00ddff"/><stop offset="0.050" stop-color="#00fffc"/><stop offset="0.250" stop-color="#00ff68"/><stop offset="0.395" stop-color="#03ff00"/><stop offset="0.500" stop-color="#51ff00"/><stop offset="0.740" stop-color="#fffc00"/><stop offset="0.750" stop-color="#fff400"/><stop offset="1.000" stop-color="#ff3b00"/></linearGradient><linearGradient id="d103"><stop offset="0.000" stop-color="#00d9ff"/><stop offset="0.055" stop-color="#00fffc"/><stop offset="0.250" stop-color="#00ff6b"/><stop offset="0.395" stop-color="#01ff00"/><stop offset="0.500" stop-color="#50ff00"/><stop offset="0.740" stop-color="#fffb00"/><stop offset="0.750" stop-color="#fff400"/><stop offset="1.000" stop-color="#ff3900"/></linearGradient><linearGradient id="d104"><stop offset="0.000" stop-color="#00d4ff"/><stop offset="0.060" stop-color="#00fffd"/><stop offset="0.250" stop-color="#00ff6e"/><stop offset="0.400" stop-color="#03ff00"/><stop offset="0.500" stop-color="#4eff00"/><stop offset="0.735" stop-color="#ffff00"/><stop offset="0.750" stop-color="#fff300"/><stop offset="1.000" stop-color="#ff3700"/></linearGradient><linearGradient id="d105"><stop offset="0.000" stop-color="#00d0ff"/><stop offset="0.065" stop-color="#00fffd"/><stop offset="0.250" stop-color="#00ff71"/><stop offset="0.400" stop-color="#01ff00"/><stop offset="0.500" stop-color="#4dff00"/><stop offset="0.735" stop-color="#fffe00"/><stop offset="0.750" stop-color="#fff300"/><stop offset="1.000" stop-color="#ff3500"/></linearGradient><linearGradient id="d106"><stop offset="0.000" stop-color="#00cbff"/><stop offset="0.070" stop-color="#00fffd"/><stop offset="0.250" stop-color="#00ff74"/><stop offset="0.405" stop-color="#03ff00"/><stop offset="0.500" stop-color="#4cff00"/><stop offset="0.735" stop-color="#fffe00"/><stop offset="0.750" stop-color="#fff300"/><stop offset="1.000" stop-color="#ff3300"/></linearGradient><linearGradient id="d107"><stop offset="0.000" stop-color="#00c7ff"/><stop offset="0.075" stop-color="#00fffd"/><stop offset="0.250" stop-color="#00ff76"/><stop offset="0.405" stop-color="#01ff00"/><stop offset="0.500" stop-color="#4bff00"/><stop offset="0.735" stop-color="#fffe00"/><stop offset="0.750" stop-color="#fff200"/><stop offset="1.000" stop-color="#ff3100"/></linearGradient><linearGradient id="d108"><stop offset="0.000" stop-color="#00c2ff"/><stop offset="0.080" stop-color="#00fffe"/><stop offset="0.250" stop-color="#00ff79"/><stop offset="0.410" stop-color="#03ff00"/><stop offset="0.500" stop-color="#4aff00"/><stop offset="0.735" stop-color="#fffd00"/><stop offset="0.750" stop-color="#fff200"/><stop offset="1.000" stop-color="#ff2f00"/></linearGradient><linearGradient id="d109"><stop offset="0.000" stop-color="#00beff"/><stop offset="0.085" stop-color="#00fffe"/><stop offset="0.250" stop-color="#00ff7c"/><stop offset="0.410" stop-color="#02ff00"/><stop offset="0.500" stop-color="#48ff00"/><stop offset="0.735" stop-color="#fffd00"/><stop offset="0.750" stop-color="#fff100"/><stop offset="1.000" stop-color="#ff2d00"/></linearGradient><linearGradient id="d110"><stop offset="0.000" stop-color="#00b9ff"/><stop offset="0.090" stop-color="#00fffe"/><stop offset="0.250" stop-color="#00ff7f"/><stop offset="0.415" stop-color="#04ff00"/><stop offset="0.500" stop-color="#47ff00"/><stop offset="0.735" stop-color="#fffd00"/><stop offset="0.750" stop-color="#fff100"/><stop offset="1.000" stop-color="#ff2a00"/></linearGradient><linearGradient id="d111"><stop offset="0.000" stop-color="#00b5ff"/><stop offset="0.095" stop-color="#00fffe"/><stop offset="0.250" stop-color="#00ff82"/><stop offset="0.415" stop-color="#02ff00"/><stop offset="0.500" stop-color="#46ff00"/><stop offset="0.735" stop-color="#fffc00"/><stop offset="0.750" stop-color="#fff000"/><stop offset="1.000" stop-color="#ff2800"/></linearGradient><linearGradient id="d112"><stop offset="0.000" stop-color="#00b0ff"/><stop offset="0.100" stop-color="#00fffd"/><stop offset="0.250" stop-color="#00ff85"/><stop offset="0.415" stop-color="#00ff00"/><stop offset="0.500" stop-color="#45ff00"/><stop offset="0.735" stop-color="#fffc00"/><stop offset="0.750" stop-color="#fff000"/><stop offset="1.000" stop-color="#ff2600"/></linearGradient><linearGradient id="d113"><stop offset="0.000" stop-color="#00acff"/><stop offset="0.105" stop-color="#00fffd"/><stop offset="0.250" stop-color="#00ff87"/><stop offset="0.420" stop-color="#03ff00"/><stop offset="0.500" stop-color="#44ff00"/><stop offset="0.735" stop-color="#fffc00"/><stop offset="0.750" stop-color="#ffef00"/><stop offset="1.000" stop-color="#ff2400"/></linearGradient><linearGradient id="d114"><stop offset="0.000" stop-color="#00a7ff"/><stop offset="0.110" stop-color="#00fffd"/><stop offset="0.250" stop-color="#00ff8a"/><stop offset="0.420" stop-color="#01ff00"/><stop offset="0.500" stop-color="#42ff00"/><stop offset="0.735" stop-color="#fffb00"/><stop offset="0.750" stop-color="#ffef00"/><stop offset="1.000" stop-color="#ff2200"/></linearGradient><linearGradient id="d115"><stop offset="0.000" stop-color="#00a3ff"/><stop offset="0.115" stop-color="#00fffd"/><stop offset="0.250" stop-color="#00ff8d"/><stop offset="0.425" stop-color="#03ff00"/><stop offset="0.500" stop-color="#41ff00"/><stop offset="0.730" stop-color="#ffff00"/><stop offset="0.750" stop-color="#ffee00"/><stop offset="1.000" stop-color="#ff2000"/></linearGradient><linearGradient id="d116"><stop offset="0.000" stop-color="#009eff"/><stop offset="0.120" stop-color="#00fffc"/><stop offset="0.250" stop-color="#00ff90"/><stop offset="0.425" stop-color="#02ff00"/><stop offset="0.500" stop-color="#40ff00"/><stop offset="0.730" stop-color="#ffff00"/><stop offset="0.750" stop-color="#ffee00"/><stop offset="1.000" stop-color="#ff1e00"/></linearGradient><linearGradient id="d117"><stop offset="0.000" stop-color="#009aff"/><stop offset="0.125" stop-color="#00fffc"/><stop offset="0.250" stop-color="#00ff93"/><stop offset="0.430" stop-color="#04ff00"/><stop offset="0.500" stop-color="#3fff00"/><stop offset="0.730" stop-color="#fffe00"/><stop offset="0.750" stop-color="#ffee00"/><stop offset="1.000" stop-color="#ff1c00"/></linearGradient><linearGradient id="d118"><stop offset="0.000" stop-color="#0095ff"/><stop offset="0.130" stop-color="#00fffb"/><stop offset="0.250" stop-color="#00ff96"/><stop offset="0.430" stop-color="#02ff00"/><stop offset="0.500" stop-color="#3eff00"/><stop offset="0.730" stop-color="#fffe00"/><stop offset="0.750" stop-color="#ffed00"/><stop offset="1.000" stop-color="#ff1a00"/></linearGradient><linearGradient id="d119"><stop offset="0.000" stop-color="#0091ff"/><stop offset="0.130" stop-color="#00ffff"/><stop offset="0.250" stop-color="#00ff99"/><stop offset="0.430" stop-color="#01ff00"/><stop offset="0.500" stop-color="#3cff00"/><stop offset="0.730" stop-color="#fffe00"/><stop offset="0.750" stop-color="#ffed00"/><stop offset="1.000" stop-color="#ff1700"/></linearGradient><linearGradient id="d120"><stop offset="0.000" stop-color="#008cff"/><stop offset="0.135" stop-color="#00fffe"/><stop offset="0.250" stop-color="#00ff9b"/><stop offset="0.435" stop-color="#03ff00"/><stop offset="0.500" stop-color="#3bff00"/><stop offset="0.730" stop-color="#fffd00"/><stop offset="0.750" stop-color="#ffec00"/><stop offset="1.000" stop-color="#ff1500"/></linearGradient><linearGradient id="d121"><stop offset="0.000" stop-color="#0088ff"/><stop offset="0.140" stop-color="#00fffd"/><stop offset="0.250" stop-color="#00ff9e"/><stop offset="0.435" stop-color="#02ff00"/><stop offset="0.500" stop-color="#3aff00"/><stop offset="0.730" stop-color="#fffd00"/><stop offset="0.750" stop-color="#ffec00"/><stop offset="1.000" stop-color="#ff1300"/></linearGradient><linearGradient id="d122"><stop offset="0.000" stop-color="#0083ff"/><stop offset="0.145" stop-color="#00fffd"/><stop offset="0.250" stop-color="#00ffa1"/><stop offset="0.435" stop-color="#00ff00"/><stop offset="0.500" stop-color="#39ff00"/><stop offset="0.730" stop-color="#fffd00"/><stop offset="0.750" stop-color="#ffeb00"/><stop offset="1.000" stop-color="#ff1100"/></linearGradient><linearGradient id="d123"><stop offset="0.000" stop-color="#007fff"/><stop offset="0.150" stop-color="#00fffc"/><stop offset="0.250" stop-color="#00ffa4"/><stop offset="0.440" stop-color="#03ff00"/><stop offset="0.500" stop-color="#38ff00"/><stop offset="0.730" stop-color="#fffc00"/><stop offset="0.750" stop-color="#ffeb00"/><stop offset="1.000" stop-color="#ff0f00"/></linearGradient><linearGradient id="d124"><stop offset="0.000" stop-color="#007aff"/><stop offset="0.155" stop-color="#00fffb"/><stop offset="0.250" stop-color="#00ffa7"/><stop offset="0.440" stop-color="#01ff00"/><stop offset="0.500" stop-color="#36ff00"/><stop offset="0.730" stop-color="#fffc00"/><stop offset="0.750" stop-color="#ffea00"/><stop offset="1.000" stop-color="#ff0d00"/></linearGradient><linearGradient id="d125"><stop offset="0.000" stop-color="#0076ff"/><stop offset="0.155" stop-color="#00fffe"/><stop offset="0.250" stop-color="#00ffaa"/><stop offset="0.445" stop-color="#04ff00"/><stop offset="0.500" stop-color="#35ff00"/><stop offset="0.730" stop-color="#fffc00"/><stop offset="0.750" stop-color="#ffea00"/><stop offset="1.000" stop-color="#ff0b00"/></linearGradient><linearGradient id="d126"><stop offset="0.000" stop-color="#0071ff"/><stop offset="0.160" stop-color="#00fffd"/><stop offset="0.250" stop-color="#00ffad"/><stop offset="0.445" stop-color="#03ff00"/><stop offset="0.500" stop-color="#34ff00"/><stop offset="0.730" stop-color="#fffb00"/><stop offset="0.750" stop-color="#ffe900"/><stop offset="1.000" stop-color="#ff0900"/></linearGradient><linearGradient id="d127"><stop offset="0.000" stop-color="#006dff"/><stop offset="0.165" stop-color="#00fffc"/><stop offset="0.250" stop-color="#00ffaf"/><stop offset="0.445" stop-color="#01ff00"/><stop offset="0.500" stop-color="#33ff00"/><stop offset="0.730" stop-color="#fffb00"/><stop offset="0.750" stop-color="#ffe900"/><stop offset="1.000" stop-color="#ff0700"/></linearGradient><linearGradient id="d128"><stop offset="0.000" stop-color="#0068ff"/><stop offset="0.170" stop-color="#00fffb"/><stop offset="0.250" stop-color="#00ffb2"/><stop offset="0.450" stop-color="#04ff00"/><stop offset="0.500" stop-color="#32ff00"/><stop offset="0.730" stop-color="#fffb00"/><stop offset="0.750" stop-color="#ffe800"/><stop offset="1.000" stop-color="#ff0400"/></linearGradient><linearGradient id="d129"><stop offset="0.000" stop-color="#0064ff"/><stop offset="0.170" stop-color="#00fffe"/><stop offset="0.250" stop-color="#00ffb5"/><stop offset="0.450" stop-color="#03ff00"/><stop offset="0.500" stop-color="#30ff00"/><stop offset="0.725" stop-color="#ffff00"/><stop offset="0.750" stop-color="#ffe800"/><stop offset="1.000" stop-color="#ff0200"/></linearGradient><linearGradient id="d130"><stop offset="0.000" stop-color="#005fff"/><stop offset="0.175" stop-color="#00fffd"/><stop offset="0.250" stop-color="#00ffb8"/><stop offset="0.450" stop-color="#01ff00"/><stop offset="0.500" stop-color="#2fff00"/><stop offset="0.725" stop-color="#ffff00"/><stop offset="0.750" stop-color="#ffe700"/><stop offset="1.000" stop-color="#ff0000"/></linearGradient><linearGradient id="d131"><stop offset="0.000" stop-color="#005bff"/><stop offset="0.180" stop-color="#00fffc"/><stop offset="0.250" stop-color="#00ffbb"/><stop offset="0.455" stop-color="#04ff00"/><stop offset="0.500" stop-color="#2eff00"/><stop offset="0.725" stop-color="#fffe00"/><stop offset="0.750" stop-color="#ffe700"/><stop offset="1.000" stop-color="#ff0000"/></linearGradient><linearGradient id="d132"><stop offset="0.000" stop-color="#0056ff"/><stop offset="0.185" stop-color="#00fffb"/><stop offset="0.250" stop-color="#00ffbe"/><stop offset="0.455" stop-color="#03ff00"/><stop offset="0.500" stop-color="#2dff00"/><stop offset="0.725" stop-color="#fffe00"/><stop offset="0.750" stop-color="#ffe700"/><stop offset="1.000" stop-color="#ff0000"/></linearGradient><linearGradient id="d133"><stop offset="0.000" stop-color="#0052ff"/><stop offset="0.185" stop-color="#00fffe"/><stop offset="0.250" stop-color="#00ffc0"/><stop offset="0.455" stop-color="#01ff00"/><stop offset="0.500" stop-color="#2cff00"/><stop offset="0.725" stop-color="#fffe00"/><stop offset="0.750" stop-color="#ffe600"/><stop offset="1.000" stop-color="#ff0000"/></linearGradient></defs>
<rect x="411.3" y="378.6" width="267.7" height="2.6" fill="url(#d0)"/>
<rect x="411.3" y="380.6" width="267.7" height="2.6" fill="url(#d1)"/>
<rect x="411.3" y="382.6" width="267.7" height="2.6" fill="url(#d2)"/>
<rect x="411.3" y="384.6" width="267.7" height="2.6" fill="url(#d3)"/>
<rect x="411.3" y="386.6" width="267.7" height="2.6" fill="url(#d4)"/>
<rect x="411.3" y="388.6" width="267.7" height="2.6" fill="url(#d5)"/>
<rect x="411.3" y="390.6" width="267.7" height="2.6" fill="url(#d6)"/>
<rect x="411.3" y="392.6" width="267.7" height="2.6" fill="url(#d7)"/>
<rect x="411.3" y="394.6" width="267.7" height="2.6" fill="url(#d8)"/>
<rect x="411.3" y="396.6" width="267.7" height="2.6" fill="url(#d9)"/>
<rect x="411.3" y="398.5" width="267.7" height="2.6" fill="url(#d10)"/>
<rect x="411.3" y="400.5" width="267.7" height="2.6" fill="url(#d11)"/>
<rect x="411.3" y="402.5" width="267.7" height="2.6" fill="url(#d12)"/>
<rect x="411.3" y="404.5" width="267.7" height="2.6" fill="url(#d13)"/>
<rect x="411.3" y="406.5" width="267.7" height="2.6" fill="url(#d14)"/>
<rect x="411.3" y="408.5" width="267.7" height="2.6" fill="url(#d15)"/>
<rect x="411.3" y="410.5" width="267.7" height="2.6" fill="url(#d16)"/>
<rect x="411.3" y="412.5" width="267.7" height="2.6" fill="url(#d17)"/>
<rect x="411.3" y="414.5" width="267.7" height="2.6" fill="url(#d18)"/>
<rect x="411.3" y="416.5" width="267.7" height="2.6" fill="url(#d19)"/>
<rect x="411.3" y="418.5" width="267.7" height="2.6" fill="url(#d20)"/>
<rect x="411.3" y="420.5" width="267.7" height="2.6" fill="url(#d21)"/>
<rect x="411.3" y="422.5" width="267.7" height="2.6" fill="url(#d22)"/>
<rect x="411.3" y="424.5" width="267.7" height="2.6" fill="url(#d23)"/>
<rect x="411.3" y="426.5" width="267.7" height="2.6" fill="url(#d24)"/>
<rect x="411.3" y="428.5" width="267.7" height="2.6" fill="url(#d25)"/>
<rect x="411.3" y="430.5" width="267.7" height="2.6" fill="url(#d26)"/>
<rect x="411.3" y="432.5" width="267.7" height="2.6" fill="url(#d27)"/>
<rect x="411.3" y="434.5" width="267.7" height="2.6" fill="url(#d28)"/>
<rect x="411.3" y="436.4" width="267.7" height="2.6" fill="url(#d29)"/>
<rect x="411.3" y="438.4" width="267.7" height="2.6" fill="url(#d30)"/>
<rect x="411.3" y="440.4" width="267.7" height="2.6" fill="url(#d31)"/>
<rect x="411.3" y="442.4" width="267.7" height="2.6" fill="url(#d32)"/>
<rect x="411.3" y="444.4" width="267.7" height="2.6" fill="url(#d33)"/>
<rect x="411.3" y="446.4" width="267.7" height="2.6" fill="url(#d34)"/>
<rect x="411.3" y="448.4" width="267.7" height="2.6" fill="url(#d35)"/>
<rect x="411.3" y="450.4" width="267.7" height="2.6" fill="url(#d36)"/>
<rect x="411.3" y="452.4" width="267.7" height="2.6" fill="url(#d37)"/>
<rect x="411.3" y="454.4" width="267.7" height="2.6" fill="url(#d38)"/>
<rect x="411.3" y="456.4" width="267.7" height="2.6" fill="url(#d39)"/>
<rect x="411.3" y="458.4" width="267.7" height="2.6" fill="url(#d40)"/>
<rect x="411.3" y="460.4" width="267.7" height="2.6" fill="url(#d41)"/>
<rect x="411.3" y="462.4" width="267.7" height="2.6" fill="url(#d42)"/>
<rect x="411.3" y="464.4" width="267.7" height="2.6" fill="url(#d43)"/>
<rect x="411.3" y="466.4" width="267.7" height="2.6" fill="url(#d44)"/>
<rect x="411.3" y="468.4" width="267.7" height="2.6" fill="url(#d45)"/>
<rect x="411.3" y="470.4" width="267.7" height="2.6" fill="url(#d46)"/>
<rect x="411.3" y="472.4" width="267.7" height="2.6" fill="url(#d47)"/>
<rect x="411.3" y="474.3" width="267.7" height="2.6" fill="url(#d48)"/>
<rect x="411.3" y="476.3" width="267.7" height="2.6" fill="url(#d49)"/>
<rect x="411.3" y="478.3" width="267.7" height="2.6" fill="url(#d50)"/>
<rect x="411.3" y="480.3" width="267.7" height="2.6" fill="url(#d51)"/>
<rect x="411.3" y="482.3" width="267.7" height="2.6" fill="url(#d52)"/>
<rect x="411.3" y="484.3" width="267.7" height="2.6" fill="url(#d53)"/>
<rect x="411.3" y="486.3" width="267.7" height="2.6" fill="url(#d54)"/>
<rect x="411.3" y="488.3" width="267.7" height="2.6" fill="url(#d55)"/>
<rect x="411.3" y="490.3" width="267.7" height="2.6" fill="url(#d56)"/>
<rect x="411.3" y="492.3" width="267.7" height="2.6" fill="url(#d57)"/>
<rect x="411.3" y="494.3" width="267.7" height="2.6" fill="url(#d58)"/>
<rect x="411.3" y="496.3" width="267.7" height="2.6" fill="url(#d59)"/>
<rect x="411.3" y="498.3" width="267.7" height="2.6" fill="url(#d60)"/>
<rect x="411.3" y="500.3" width="267.7" height="2.6" fill="url(#d61)"/>
<rect x="411.3" y="502.3" width="267.7" height="2.6" fill="url(#d62)"/>
<rect x="411.3" y="504.3" width="267.7" height="2.6" fill="url(#d63)"/>
<rect x="411.3" y="506.3" width="267.7" height="2.6" fill="url(#d64)"/>
<rect x="411.3" y="508.3" width="267.7" height="2.6" fill="url(#d65)"/>
<rect x="411.3" y="510.3" width="267.7" height="2.6" fill="url(#d66)"/>
<rect x="411.3" y="512.2" width="267.7" height="2.6" fill="url(#d67)"/>
<rect x="411.3" y="514.2" width="267.7" height="2.6" fill="url(#d68)"/>
<rect x="411.3" y="516.2" width="267.7" height="2.6" fill="url(#d69)"/>
<rect x="411.3" y="518.2" width="267.7" height="2.6" fill="url(#d70)"/>
<rect x="411.3" y="520.2" width="267.7" height="2.6" fill="url(#d71)"/>
<rect x="411.3" y="522.2" width="267.7" height="2.6" fill="url(#d72)"/>
<rect x="411.3" y="524.2" width="267.7" height="2.6" fill="url(#d73)"/>
<rect x="411.3" y="526.2" width="267.7" height="2.6" fill="url(#d74)"/>
<rect x="411.3" y="528.2" width="267.7" height="2.6" fill="url(#d75)"/>
<rect x="411.3" y="530.2" width="267.7" height="2.6" fill="url(#d76)"/>
<rect x="411.3" y="532.2" width="267.7" height="2.6" fill="url(#d77)"/>
<rect x="411.3" y="534.2" width="267.7" height="2.6" fill="url(#d78)"/>
<rect x="411.3" y="536.2" width="267.7" height="2.6" fill="url(#d79)"/>
<rect x="411.3" y="538.2" width="267.7" height="2.6" fill="url(#d80)"/>
<rect x="411.3" y="540.2" width="267.7" height="2.6" fill="url(#d81)"/>
<rect x="411.3" y="542.2" width="267.7" height="2.6" fill="url(#d82)"/>
<rect x="411.3" y="544.2" width="267.7" height="2.6" fill="url(#d83)"/>
<rect x="411.3" y="546.2" width="267.7" height="2.6" fill="url(#d84)"/>
<rect x="411.3" y="548.2" width="267.7" height="2.6" fill="url(#d85)"/>
<rect x="411.3" y="550.2" width="267.7" height="2.6" fill="url(#d86)"/>
<rect x="411.3" y="552.1" width="267.7" height="2.6" fill="url(#d87)"/>
<rect x="411.3" y="554.1" width="267.7" height="2.6" fill="url(#d88)"/>
<rect x="411.3" y="556.1" width="267.7" height="2.6" fill="url(#d89)"/>
<rect x="411.3" y="558.1" width="267.7" height="2.6" fill="url(#d90)"/>
<rect x="411.3" y="560.1" width="267.7" height="2.6" fill="url(#d91)"/>
<rect x="411.3" y="562.1" width="267.7" height="2.6" fill="url(#d92)"/>
<rect x="411.3" y="564.1" width="267.7" height="2.6" fill="url(#d93)"/>
<rect x="411.3" y="566.1" width="267.7" height="2.6" fill="url(#d94)"/>
<rect x="411.3" y="568.1" width="267.7" height="2.6" fill="url(#d95)"/>
<rect x="411.3" y="570.1" width="267.7" height="2.6" fill="url(#d96)"/>
<rect x="411.3" y="572.1" width="267.7" height="2.6" fill="url(#d97)"/>
<rect x="411.3" y="574.1" width="267.7" height="2.6" fill="url(#d98)"/>
<rect x="411.3" y="576.1" width="267.7" height="2.6" fill="url(#d99)"/>
<rect x="411.3" y="578.1" width="267.7" height="2.6" fill="url(#d100)"/>
<rect x="411.3" y="580.1" width="267.7" height="2.6" fill="url(#d101)"/>
<rect x="411.3" y="582.1" width="267.7" height="2.6" fill="url(#d102)"/>
<rect x="411.3" y="584.1" width="267.7" height="2.6" fill="url(#d103)"/>
<rect x="411.3" y="586.1" width="267.7" height="2.6" fill="url(#d104)"/>
<rect x="411.3" y="588.1" width="267.7" height="2.6" fill="url(#d105)"/>
<rect x="411.3" y="590" width="267.7" height="2.6" fill="url(#d106)"/>
<rect x="411.3" y="592" width="267.7" height="2.6" fill="url(#d107)"/>
<rect x="411.3" y="594" width="267.7" height="2.6" fill="url(#d108)"/>
<rect x="411.3" y="596" width="267.7" height="2.6" fill="url(#d109)"/>
<rect x="411.3" y="598" width="267.7" height="2.6" fill="url(#d110)"/>
<rect x="411.3" y="600" width="267.7" height="2.6" fill="url(#d111)"/>
<rect x="411.3" y="602" width="267.7" height="2.6" fill="url(#d112)"/>
<rect x="411.3" y="604" width="267.7" height="2.6" fill="url(#d113)"/>
<rect x="411.3" y="606" width="267.7" height="2.6" fill="url(#d114)"/>
<rect x="411.3" y="608" width="267.7" height="2.6" fill="url(#d115)"/>
<rect x="411.3" y="610" width="267.7" height="2.6" fill="url(#d116)"/>
<rect x="411.3" y="612" width="267.7" height="2.6" fill="url(#d117)"/>
<rect x="411.3" y="614" width="267.7" height="2.6" fill="url(#d118)"/>
<rect x="411.3" y="616" width="267.7" height="2.6" fill="url(#d119)"/>
<rect x="411.3" y="618" width="267.7" height="2.6" fill="url(#d120)"/>
<rect x="411.3" y="620" width="267.7" height="2.6" fill="url(#d121)"/>
<rect x="411.3" y="622" width="267.7" height="2.6" fill="url(#d122)"/>
<rect x="411.3" y="624" width="267.7" height="2.6" fill="url(#d123)"/>
<rect x="411.3" y="626" width="267.7" height="2.6" fill="url(#d124)"/>
<rect x="411.3" y="627.9" width="267.7" height="2.6" fill="url(#d125)"/>
<rect x="411.3" y="629.9" width="267.7" height="2.6" fill="url(#d126)"/>
<rect x="411.3" y="631.9" width="267.7" height="2.6" fill="url(#d127)"/>
<rect x="411.3" y="633.9" width="267.7" height="2.6" fill="url(#d128)"/>
<rect x="411.3" y="635.9" width="267.7" height="2.6" fill="url(#d129)"/>
<rect x="411.3" y="637.9" width="267.7" height="2.6" fill="url(#d130)"/>
<rect x="411.3" y="639.9" width="267.7" height="2.6" fill="url(#d131)"/>
<rect x="411.3" y="641.9" width="267.7" height="2.6" fill="url(#d132)"/>
<rect x="411.3" y="643.9" width="267.7" height="2.6" fill="url(#d133)"/>
<polyline class="ct" fill="none" points="431.7,646.2 431.2,645.3 430.9,644.8 430.7,644.4 430.2,643.5 430,643.2 429.7,642.6 429.2,641.7 429.1,641.7 428.6,640.9 428.3,640.2 428.1,640 427.6,639.1 427.4,638.7 427.1,638.2 426.5,637.3 426.5,637.2 426,636.4 425.6,635.7 425.4,635.5 424.9,634.6 424.7,634.3 424.4,633.7 423.8,632.8 423.8,632.8 423.2,631.9 422.9,631.4 422.7,631.1 422.1,630.2 422,630 421.6,629.3 421.1,628.6 421,628.4 420.4,627.5 420.2,627.2 419.8,626.6 419.3,625.8 419.2,625.7 418.7,624.8 418.4,624.5 418.1,623.9 417.5,623.2 417.5,623 416.9,622.1 416.7,621.8 416.3,621.3 415.8,620.5 415.7,620.4 415,619.5 414.9,619.2 414.4,618.6 414,617.9 413.8,617.7 413.2,616.8 413.1,616.7 412.6,615.9 412.2,615.4 411.9,615 411.3,614.2"/>
<polyline class="ct" fill="none" points="482.1,646.2 481.4,644.4 480.7,642.6 479.6,640 478.9,638.2 477.8,635.5 477,633.7 475.9,631.1 475.1,629.3 473.9,626.6 473.1,624.8 472,622.4 471.1,620.4 470.2,618.6 469.3,616.7 468.4,614.9 467.1,612.3 466.2,610.6 464.9,607.9 463.9,606.1 463,604.3 462,602.5 460.6,599.9 459.6,598.1 458.6,596.4 457.5,594.5 456.5,592.7 455,590.3 454.1,588.9 452.7,586.5 451.6,584.7 450.4,582.9 449.3,581.2 447.9,579.1 446.9,577.6 445.2,575.2 444.3,573.9 443.2,572.2 441.6,570.1 440.6,568.7 439,566.5 437.9,565.1 436.3,563 435.1,561.6 433.6,559.6 432.3,558 430.8,556.2 429.3,554.4 428.3,553.2 426.5,551.2 425.4,550 423.8,548.2 422.2,546.4 420.5,544.6 419.3,543.4 417.5,541.6 416.2,540.2 414.4,538.4 413.1,537.1 411.3,535.4"/>
<polyline class="ct" fill="none" points="532.5,646.2 531.7,642.6 530.7,638.2 529.7,633.7 528.6,629.3 527.6,624.8 526.4,620.4 525.5,616.8 524.3,612.3 523,607.9 522,604.3 520.9,600.8 519.6,596.3 518.4,592.6 517,588.3 515.7,584.6 514.2,580.3 512.8,576.7 511.2,572.5 509.7,568.7 508.6,565.9 506.8,561.7 505.1,558 503.5,554.4 501.8,550.9 500,547.3 498.2,543.7 496.3,540.2 494.3,536.6 492.5,533.5 490.7,530.5 488.9,527.6 486.7,524.1 484.5,520.9 482.4,517.9 480,514.6 477.8,511.7 475.5,508.9 472.9,505.6 470.4,502.7 468.4,500.5 465.7,497.6 463.1,494.8 460.4,492.1 457.7,489.6 455,487.1 452.3,484.7 449.4,482.3 446.2,479.6 443.4,477.4 440.7,475.4 437.9,473.3 434.5,470.9 431.5,468.9 428.3,466.8 424.7,464.6 421.4,462.7 418.3,460.9 414.9,458.9 411.3,457"/>
<polyline class="ct" fill="none" points="582.8,646.2 582.6,640 582.3,632.8 582,624.8 581.7,618.6 581.4,611.5 581,603.4 580.6,597.2 580.2,590.1 579.8,582.9 579.3,575.8 578.9,569.6 578.3,561.6 577.8,555.3 577.2,549.1 576.5,541.1 575.8,534.8 575.1,528.6 574.3,521.5 573.4,515.2 572.6,509 571.4,501.9 570.3,495.6 569.2,489.8 567.8,483.1 566.6,477.7 565,471.6 563.2,465.3 561.5,460 559.5,454.6 557.4,449.3 555,444 552.6,439.5 549.6,434.3 546.9,430.2 543.9,426.1 540.1,421.7 536.6,418.1 532.7,414.5 528.3,411 524.5,408.3 520.2,405.6 514.8,402.6 510.1,400.3 505,398.1 499.2,395.8 494,394 488.3,392.3 481.9,390.5 476.4,389.1 470.6,387.8 463.9,386.4 457.7,385.3 451.7,384.2 445.2,383.2 439,382.3 432.7,381.5 425.6,380.6 418.4,379.8 411.3,379.1"/>
<polyline class="ct" fill="none" points="633.2,646.2 633.5,643.9 633.9,640.9 634.4,637.8 634.9,634.6 635.3,631.9 635.7,629.3 636.2,626.2 636.7,623 637.1,620.4 637.7,616.8 638,615 638.7,611.5 639.2,608.8 639.7,605.7 640.3,602.5 640.9,599.9 641.4,597.2 641.9,594.5 642.5,591.8 643.3,588.3 643.8,585.6 644.2,583.8 645.1,580.3 645.7,577.6 646.3,574.9 647,572.2 647.7,569.6 648.4,566.9 649.1,564.2 649.8,561.6 650.6,558.9 651.3,556.1 652.1,553.5 652.9,550.9 653.8,548.2 654.6,545.5 655.5,542.8 656.1,541.1 657,538.4 658,535.7 659,533 660,530.4 660.7,528.6 661.7,525.9 662.8,523.2 663.8,520.9 664.8,518.8 666,516.1 666.8,514.3 668.1,511.7 669.2,509.4 670.3,507.2 671.7,504.5 672.6,502.7 673.6,500.9 675.1,498.3 676.3,496.3 677.8,493.8 679,492"/>
<rect class="lb" x="552.6" y="443.4" width="12.6" height="7.9"/><text transform="translate(558.9 449.9) scale(0.93 1)" font-size="7.74" text-anchor="middle" font-family='"Liberation Serif", serif' fill="#111">-18</text>
<rect class="lb" x="484.1" y="524.5" width="12.6" height="7.9"/><text transform="translate(490.4 531) scale(0.93 1)" font-size="7.74" text-anchor="middle" font-family='"Liberation Serif", serif' fill="#111">-20</text>
<rect class="lb" x="445" y="578.1" width="12.6" height="7.9"/><text transform="translate(451.3 584.6) scale(0.93 1)" font-size="7.74" text-anchor="middle" font-family='"Liberation Serif", serif' fill="#111">-22</text>
<rect class="lb" x="414.4" y="621.8" width="12.6" height="7.9"/><text transform="translate(420.7 628.3) scale(0.93 1)" font-size="7.74" text-anchor="middle" font-family='"Liberation Serif", serif' fill="#111">-24</text>
<rect class="lb" x="643.3" y="554.6" width="12.6" height="7.9"/><text transform="translate(649.6 561.1) scale(0.93 1)" font-size="7.74" text-anchor="middle" font-family='"Liberation Serif", serif' fill="#111">-16</text>
<rect class="bd" x="411.3" y="378.9" width="267.7" height="267.3"/>
<line class="tkl" x1="411.3" y1="646.2" x2="411.3" y2="651.2"/>
<text transform="translate(411.3 661.2) scale(0.93 1)" font-size="7.95" text-anchor="middle" font-family='"Liberation Sans", sans-serif' fill="#222">15</text>
<line class="tkl" x1="478.2" y1="646.2" x2="478.2" y2="651.2"/>
<text transform="translate(478.2 661.2) scale(0.93 1)" font-size="7.95" text-anchor="middle" font-family='"Liberation Sans", sans-serif' fill="#222">20</text>
<line class="tkl" x1="545.1" y1="646.2" x2="545.1" y2="651.2"/>
<text transform="translate(545.1 661.2) scale(0.93 1)" font-size="7.95" text-anchor="middle" font-family='"Liberation Sans", sans-serif' fill="#222">25</text>
<line class="tkl" x1="612.1" y1="646.2" x2="612.1" y2="651.2"/>
<text transform="translate(612.1 661.2) scale(0.93 1)" font-size="7.95" text-anchor="middle" font-family='"Liberation Sans", sans-serif' fill="#222">30</text>
<line class="tkl" x1="679" y1="646.2" x2="679" y2="651.2"/>
<text transform="translate(679 661.2) scale(0.93 1)" font-size="7.95" text-anchor="middle" font-family='"Liberation Sans", sans-serif' fill="#222">35</text>
<line class="tkl" x1="405.3" y1="646.2" x2="411.3" y2="646.2"/>
<text transform="translate(403 648.5) scale(0.93 1)" font-size="7.95" text-anchor="end" font-family='"Liberation Sans", sans-serif' fill="#222">0</text>
<line class="tkl" x1="405.3" y1="579.4" x2="411.3" y2="579.4"/>
<text transform="translate(403 581.7) scale(0.93 1)" font-size="7.95" text-anchor="end" font-family='"Liberation Sans", sans-serif' fill="#222">0.5</text>
<line class="tkl" x1="405.3" y1="512.5" x2="411.3" y2="512.5"/>
<text transform="translate(403 514.8) scale(0.93 1)" font-size="7.95" text-anchor="end" font-family='"Liberation Sans", sans-serif' fill="#222">1</text>
<line class="tkl" x1="405.3" y1="445.7" x2="411.3" y2="445.7"/>
<text transform="translate(403 448) scale(0.93 1)" font-size="7.95" text-anchor="end" font-family='"Liberation Sans", sans-serif' fill="#222">1.5</text>
<line class="tkl" x1="405.3" y1="378.9" x2="411.3" y2="378.9"/>
<text transform="translate(403 381.2) scale(0.93 1)" font-size="7.95" text-anchor="end" font-family='"Liberation Sans", sans-serif' fill="#222">2</text>
<circle class="rd" cx="411.3" cy="646.2" r="2.7"/>
<circle class="rd" cx="411.3" cy="512.5" r="2.7"/>
<circle class="rd" cx="411.3" cy="378.9" r="2.7"/>
<circle class="rd" cx="545.1" cy="646.2" r="2.7"/>
<circle class="rd" cx="545.1" cy="512.5" r="2.7"/>
<circle class="rd" cx="545.1" cy="378.9" r="2.7"/>
<circle class="rd" cx="679" cy="646.2" r="2.7"/>
<circle class="rd" cx="679" cy="512.5" r="2.7"/>
<circle class="rd" cx="679" cy="378.9" r="2.7"/>
<text transform="translate(545 375) scale(0.93 1)" font-size="9.96" text-anchor="middle" font-family='"Liberation Serif", serif' fill="#222">Zeta Potential (mV)</text>
<text transform="translate(545 670.5) scale(0.93 1)" font-size="11.02" text-anchor="middle" font-family='"Liberation Sans", sans-serif' fill="#222">Poloxamer 407 (%)</text>
<text transform="translate(390.5 512.5) rotate(-90) scale(0.93 1)" font-size="10.99" text-anchor="middle" font-family='"Liberation Sans", sans-serif' fill="#222">Sonication Time (min)</text>
<rect x="8.7" y="1.7" width="16.6" height="18.5" fill="#fff" stroke="#333" stroke-width="1"/><text transform="translate(17 15.8) scale(0.86 1)" font-size="16" text-anchor="middle" font-family='"Liberation Serif", serif' fill="#000" font-weight="bold">a</text>
<rect x="373.8" y="1.7" width="16.5" height="18.5" fill="#fff" stroke="#333" stroke-width="1"/><text transform="translate(382.1 15.8) scale(0.86 1)" font-size="16" text-anchor="middle" font-family='"Liberation Serif", serif' fill="#000" font-weight="bold">b</text>
<rect x="8.7" y="347.7" width="16.6" height="18.5" fill="#fff" stroke="#333" stroke-width="1"/><text transform="translate(17 361.8) scale(0.86 1)" font-size="16" text-anchor="middle" font-family='"Liberation Serif", serif' fill="#000" font-weight="bold">c</text>
<rect x="373.8" y="352.3" width="16.5" height="18.5" fill="#fff" stroke="#333" stroke-width="1"/><text transform="translate(382.1 366.4) scale(0.86 1)" font-size="16" text-anchor="middle" font-family='"Liberation Serif", serif' fill="#000" font-weight="bold">d</text>
</svg></body></html>
